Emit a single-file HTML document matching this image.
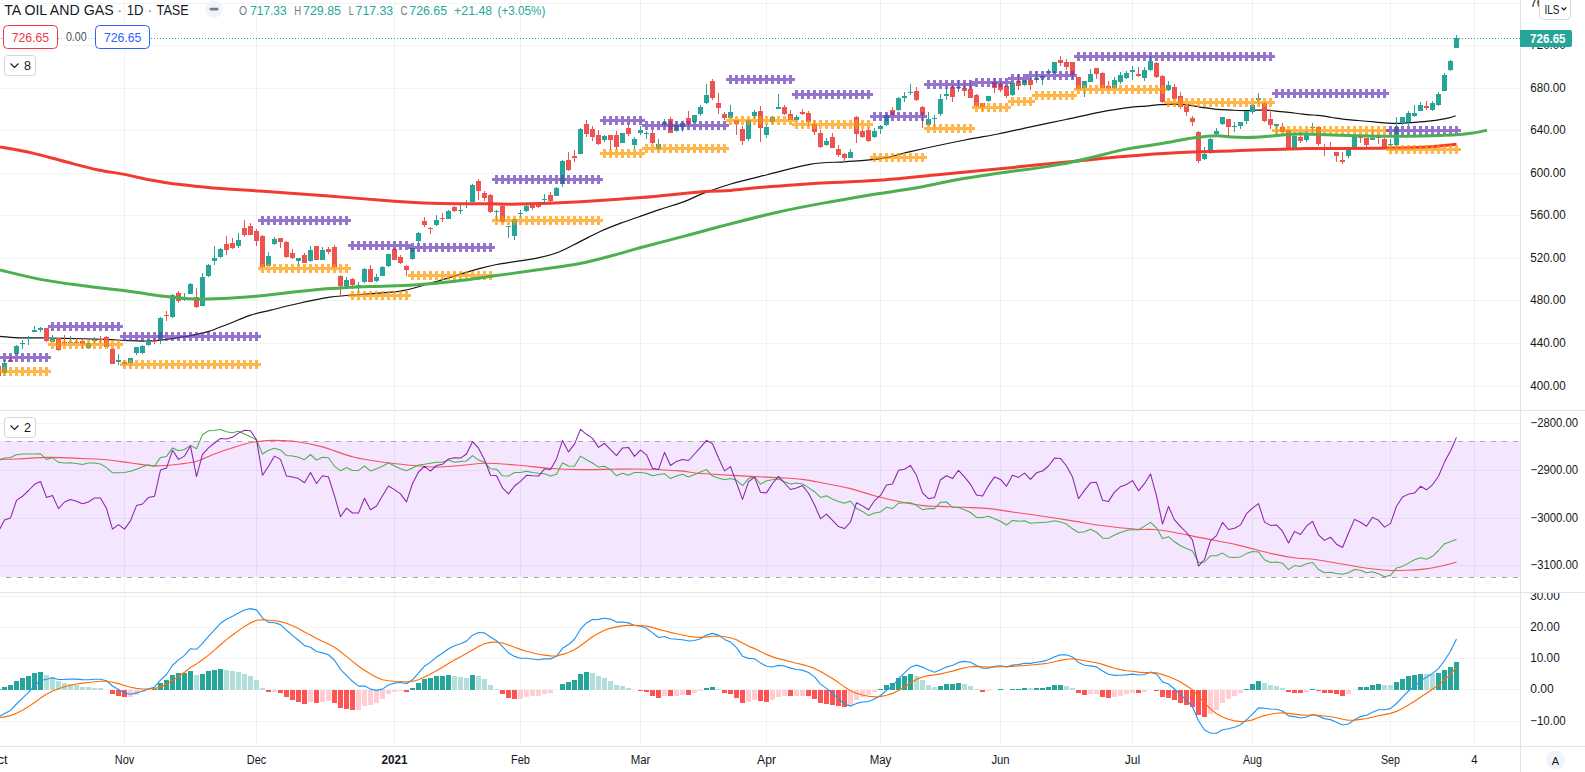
<!DOCTYPE html><html><head><meta charset="utf-8"><title>TA OIL AND GAS chart</title><style>html,body{margin:0;padding:0;background:#fff;overflow:hidden;}svg{display:block;}</style></head><body><svg width="1585" height="772" viewBox="0 0 1585 772" font-family="'Liberation Sans', Arial, sans-serif">
<rect x="0" y="0" width="1585" height="772" fill="#ffffff"/>
<defs><clipPath id="cm"><rect x="0" y="0" width="1520" height="410"/></clipPath><clipPath id="c2"><rect x="0" y="411" width="1520" height="181"/></clipPath><clipPath id="c3"><rect x="0" y="593" width="1520" height="153"/></clipPath></defs>
<rect x="0" y="441" width="1520" height="136" fill="#f3e6fe"/>
<g fill="#2a2e39" fill-opacity="0.06" shape-rendering="crispEdges"><rect x="124" y="0" width="1" height="410"/><rect x="124" y="411" width="1" height="181"/><rect x="124" y="593" width="1" height="153"/><rect x="256" y="0" width="1" height="410"/><rect x="256" y="411" width="1" height="181"/><rect x="256" y="593" width="1" height="153"/><rect x="394" y="0" width="1" height="410"/><rect x="394" y="411" width="1" height="181"/><rect x="394" y="593" width="1" height="153"/><rect x="520" y="0" width="1" height="410"/><rect x="520" y="411" width="1" height="181"/><rect x="520" y="593" width="1" height="153"/><rect x="640" y="0" width="1" height="410"/><rect x="640" y="411" width="1" height="181"/><rect x="640" y="593" width="1" height="153"/><rect x="766" y="0" width="1" height="410"/><rect x="766" y="411" width="1" height="181"/><rect x="766" y="593" width="1" height="153"/><rect x="880" y="0" width="1" height="410"/><rect x="880" y="411" width="1" height="181"/><rect x="880" y="593" width="1" height="153"/><rect x="1000" y="0" width="1" height="410"/><rect x="1000" y="411" width="1" height="181"/><rect x="1000" y="593" width="1" height="153"/><rect x="1132" y="0" width="1" height="410"/><rect x="1132" y="411" width="1" height="181"/><rect x="1132" y="593" width="1" height="153"/><rect x="1252" y="0" width="1" height="410"/><rect x="1252" y="411" width="1" height="181"/><rect x="1252" y="593" width="1" height="153"/><rect x="1390" y="0" width="1" height="410"/><rect x="1390" y="411" width="1" height="181"/><rect x="1390" y="593" width="1" height="153"/><rect x="1474" y="0" width="1" height="410"/><rect x="1474" y="411" width="1" height="181"/><rect x="1474" y="593" width="1" height="153"/><rect x="0" y="3" width="1520" height="1"/><rect x="0" y="45" width="1520" height="1"/><rect x="0" y="88" width="1520" height="1"/><rect x="0" y="130" width="1520" height="1"/><rect x="0" y="173" width="1520" height="1"/><rect x="0" y="215" width="1520" height="1"/><rect x="0" y="258" width="1520" height="1"/><rect x="0" y="300" width="1520" height="1"/><rect x="0" y="343" width="1520" height="1"/><rect x="0" y="386" width="1520" height="1"/><rect x="0" y="423" width="1520" height="1"/><rect x="0" y="470" width="1520" height="1"/><rect x="0" y="518" width="1520" height="1"/><rect x="0" y="565" width="1520" height="1"/><rect x="0" y="596" width="1520" height="1"/><rect x="0" y="627" width="1520" height="1"/><rect x="0" y="658" width="1520" height="1"/><rect x="0" y="689" width="1520" height="1"/><rect x="0" y="721" width="1520" height="1"/></g>
<g stroke="#a9a6b2" stroke-width="1" stroke-dasharray="5 6" shape-rendering="crispEdges"><line x1="6" y1="441.5" x2="1520" y2="441.5"/><line x1="6" y1="577.5" x2="1520" y2="577.5"/></g>
<g clip-path="url(#cm)">
<path d="M0.0,336.4 C3.5,336.6 13.9,337.6 20.8,337.9 C27.7,338.1 34.6,337.8 41.6,337.9 C48.6,338.0 52.1,338.1 62.5,338.3 C72.9,338.5 93.6,339.0 104.0,339.3 C114.4,339.6 118.0,340.1 125.0,340.4 C131.9,340.7 138.8,341.2 145.7,341.0 C152.6,340.8 159.6,340.1 166.6,339.3 C173.6,338.5 180.5,337.5 187.4,336.2 C194.3,334.9 201.1,333.7 208.0,331.6 C214.9,329.5 222.0,326.4 229.0,323.7 C236.0,321.0 243.1,317.6 250.0,315.4 C256.9,313.1 263.8,311.9 270.7,310.2 C277.6,308.5 281.6,307.2 291.5,305.0 C301.4,302.8 316.6,299.1 330.0,297.2 C343.4,295.3 359.5,294.8 371.6,293.7 C383.8,292.6 392.5,292.5 402.9,290.6 C413.3,288.7 421.9,285.7 434.0,282.2 C446.1,278.7 465.3,272.6 475.7,269.7 C486.1,266.8 486.2,266.5 496.6,264.5 C507.0,262.5 527.6,260.0 538.0,257.9 C548.4,255.8 552.0,254.7 559.0,252.0 C566.0,249.3 573.0,245.1 580.0,241.6 C587.0,238.1 593.8,234.3 600.7,231.2 C607.6,228.1 614.6,225.5 621.5,222.9 C628.4,220.3 635.9,217.8 642.3,215.6 C648.7,213.3 652.8,211.8 660.0,209.4 C667.2,207.0 678.4,203.7 685.4,201.1 C692.4,198.5 694.1,196.8 701.7,193.9 C709.3,191.1 719.8,187.2 730.8,184.0 C741.8,180.8 754.8,177.8 768.0,174.5 C781.2,171.2 797.3,166.4 810.0,164.3 C822.7,162.2 834.9,162.5 844.4,161.8 C853.9,161.1 859.4,161.0 867.0,160.2 C874.6,159.4 882.4,158.3 890.0,156.8 C897.6,155.3 900.0,153.9 912.5,151.1 C925.0,148.3 950.8,142.8 965.0,140.0 C979.2,137.2 987.0,136.2 998.0,134.0 C1009.0,131.8 1019.5,129.2 1030.8,126.8 C1042.1,124.4 1054.7,121.9 1066.0,119.5 C1077.3,117.1 1087.9,114.5 1098.8,112.4 C1109.7,110.4 1123.7,108.2 1131.6,107.2 C1139.5,106.2 1141.2,106.5 1146.0,106.1 C1150.8,105.7 1155.5,105.0 1160.2,104.7 C1165.0,104.4 1169.8,104.0 1174.5,104.1 C1179.2,104.2 1184.0,104.5 1188.7,105.1 C1193.5,105.7 1198.2,106.9 1203.0,107.6 C1207.8,108.3 1212.5,109.0 1217.2,109.4 C1222.0,109.8 1226.8,109.9 1231.5,110.1 C1236.2,110.3 1241.5,110.6 1245.7,110.6 C1250.0,110.6 1253.5,110.2 1257.0,110.1 C1260.5,110.0 1264.1,110.1 1267.0,110.2 C1269.9,110.3 1270.6,110.5 1274.2,110.8 C1277.8,111.1 1283.7,111.8 1288.4,112.3 C1293.2,112.8 1298.0,113.6 1302.7,114.1 C1307.5,114.6 1313.3,115.0 1316.9,115.3 C1320.5,115.6 1321.3,115.7 1324.2,116.1 C1327.1,116.5 1330.9,117.2 1334.3,117.8 C1337.7,118.3 1340.5,119.0 1344.4,119.4 C1348.3,119.9 1352.9,120.1 1357.9,120.5 C1362.9,120.9 1369.1,121.5 1374.2,121.9 C1379.3,122.4 1384.3,123.0 1388.5,123.2 C1392.7,123.5 1395.6,123.5 1399.2,123.4 C1402.8,123.3 1405.8,123.0 1409.9,122.7 C1414.1,122.4 1419.3,122.2 1424.1,121.7 C1428.8,121.2 1434.2,120.6 1438.4,119.9 C1442.6,119.2 1446.1,118.5 1449.0,117.8 C1451.9,117.1 1454.5,116.1 1455.6,115.8" fill="none" stroke="#131313" stroke-width="1.2"/>
<g fill="#26a69a" shape-rendering="crispEdges"><rect x="4.0" y="360" width="1" height="16"/><rect x="2.0" y="363" width="5" height="10"/><rect x="16.0" y="345" width="1" height="9"/><rect x="14.0" y="346" width="5" height="8"/><rect x="22.0" y="340" width="1" height="9"/><rect x="20.0" y="343" width="5" height="1"/><rect x="28.0" y="336" width="1" height="9"/><rect x="26.0" y="338" width="5" height="1"/><rect x="34.0" y="326" width="1" height="6"/><rect x="32.0" y="330" width="5" height="2"/><rect x="40.0" y="327" width="1" height="5"/><rect x="38.0" y="328" width="5" height="2"/><rect x="52.0" y="335" width="1" height="7"/><rect x="50.0" y="338" width="5" height="4"/><rect x="70.0" y="336" width="1" height="7"/><rect x="68.0" y="342" width="5" height="1"/><rect x="88.0" y="342" width="1" height="7"/><rect x="86.0" y="343" width="5" height="5"/><rect x="94.0" y="337" width="1" height="7"/><rect x="92.0" y="340" width="5" height="1"/><rect x="118.0" y="354" width="1" height="11"/><rect x="116.0" y="360" width="5" height="2"/><rect x="130.0" y="358" width="1" height="8"/><rect x="128.0" y="358" width="5" height="5"/><rect x="136.0" y="347" width="1" height="8"/><rect x="134.0" y="347" width="5" height="6"/><rect x="142.0" y="345" width="1" height="9"/><rect x="140.0" y="346" width="5" height="7"/><rect x="148.0" y="340" width="1" height="6"/><rect x="146.0" y="341" width="5" height="4"/><rect x="160.0" y="317" width="1" height="27"/><rect x="158.0" y="318" width="5" height="22"/><rect x="172.0" y="294" width="1" height="24"/><rect x="170.0" y="295" width="5" height="22"/><rect x="184.0" y="293" width="1" height="8"/><rect x="182.0" y="299" width="5" height="1"/><rect x="190.0" y="283" width="1" height="11"/><rect x="188.0" y="284" width="5" height="10"/><rect x="202.0" y="273" width="1" height="33"/><rect x="200.0" y="277" width="5" height="29"/><rect x="208.0" y="264" width="1" height="13"/><rect x="206.0" y="265" width="5" height="11"/><rect x="214.0" y="246" width="1" height="19"/><rect x="212.0" y="258" width="5" height="3"/><rect x="220.0" y="248" width="1" height="10"/><rect x="218.0" y="249" width="5" height="8"/><rect x="238.0" y="233" width="1" height="15"/><rect x="236.0" y="240" width="5" height="6"/><rect x="268.0" y="252" width="1" height="14"/><rect x="266.0" y="256" width="5" height="10"/><rect x="274.0" y="237" width="1" height="8"/><rect x="272.0" y="239" width="5" height="5"/><rect x="298.0" y="258" width="1" height="8"/><rect x="296.0" y="258" width="5" height="3"/><rect x="310.0" y="246" width="1" height="16"/><rect x="308.0" y="250" width="5" height="11"/><rect x="322.0" y="247" width="1" height="13"/><rect x="320.0" y="250" width="5" height="10"/><rect x="346.0" y="277" width="1" height="11"/><rect x="344.0" y="280" width="5" height="6"/><rect x="358.0" y="282" width="1" height="10"/><rect x="356.0" y="285" width="5" height="1"/><rect x="364.0" y="268" width="1" height="15"/><rect x="362.0" y="269" width="5" height="13"/><rect x="376.0" y="274" width="1" height="8"/><rect x="374.0" y="277" width="5" height="4"/><rect x="382.0" y="266" width="1" height="10"/><rect x="380.0" y="267" width="5" height="9"/><rect x="388.0" y="254" width="1" height="13"/><rect x="386.0" y="254" width="5" height="12"/><rect x="412.0" y="248" width="1" height="12"/><rect x="410.0" y="248" width="5" height="11"/><rect x="418.0" y="232" width="1" height="11"/><rect x="416.0" y="233" width="5" height="8"/><rect x="436.0" y="215" width="1" height="11"/><rect x="434.0" y="220" width="5" height="5"/><rect x="448.0" y="210" width="1" height="9"/><rect x="446.0" y="211" width="5" height="8"/><rect x="460.0" y="205" width="1" height="9"/><rect x="458.0" y="210" width="5" height="1"/><rect x="466.0" y="200" width="1" height="8"/><rect x="464.0" y="204" width="5" height="1"/><rect x="472.0" y="184" width="1" height="18"/><rect x="470.0" y="185" width="5" height="17"/><rect x="496.0" y="210" width="1" height="11"/><rect x="494.0" y="211" width="5" height="1"/><rect x="508.0" y="226" width="1" height="12"/><rect x="506.0" y="226" width="5" height="1"/><rect x="514.0" y="219" width="1" height="21"/><rect x="512.0" y="219" width="5" height="17"/><rect x="520.0" y="210" width="1" height="8"/><rect x="518.0" y="213" width="5" height="1"/><rect x="526.0" y="205" width="1" height="7"/><rect x="524.0" y="206" width="5" height="5"/><rect x="544.0" y="194" width="1" height="9"/><rect x="542.0" y="199" width="5" height="1"/><rect x="556.0" y="187" width="1" height="9"/><rect x="554.0" y="188" width="5" height="8"/><rect x="562.0" y="160" width="1" height="27"/><rect x="560.0" y="161" width="5" height="23"/><rect x="580.0" y="128" width="1" height="26"/><rect x="578.0" y="129" width="5" height="25"/><rect x="604.0" y="135" width="1" height="7"/><rect x="602.0" y="136" width="5" height="4"/><rect x="622.0" y="133" width="1" height="10"/><rect x="620.0" y="133" width="5" height="10"/><rect x="634.0" y="137" width="1" height="12"/><rect x="632.0" y="139" width="5" height="6"/><rect x="640.0" y="126" width="1" height="9"/><rect x="638.0" y="130" width="5" height="3"/><rect x="646.0" y="131" width="1" height="8"/><rect x="644.0" y="133" width="5" height="1"/><rect x="658.0" y="139" width="1" height="12"/><rect x="656.0" y="144" width="5" height="5"/><rect x="664.0" y="119" width="1" height="8"/><rect x="662.0" y="122" width="5" height="3"/><rect x="676.0" y="122" width="1" height="10"/><rect x="674.0" y="125" width="5" height="6"/><rect x="682.0" y="121" width="1" height="11"/><rect x="680.0" y="123" width="5" height="4"/><rect x="694.0" y="115" width="1" height="7"/><rect x="692.0" y="115" width="5" height="7"/><rect x="700.0" y="105" width="1" height="11"/><rect x="698.0" y="107" width="5" height="7"/><rect x="706.0" y="84" width="1" height="20"/><rect x="704.0" y="95" width="5" height="8"/><rect x="730.0" y="105" width="1" height="14"/><rect x="728.0" y="112" width="5" height="6"/><rect x="748.0" y="119" width="1" height="22"/><rect x="746.0" y="120" width="5" height="19"/><rect x="754.0" y="110" width="1" height="9"/><rect x="752.0" y="112" width="5" height="4"/><rect x="766.0" y="125" width="1" height="13"/><rect x="764.0" y="127" width="5" height="8"/><rect x="772.0" y="116" width="1" height="8"/><rect x="770.0" y="117" width="5" height="5"/><rect x="778.0" y="94" width="1" height="15"/><rect x="776.0" y="107" width="5" height="2"/><rect x="796.0" y="115" width="1" height="6"/><rect x="794.0" y="117" width="5" height="3"/><rect x="826.0" y="138" width="1" height="8"/><rect x="824.0" y="141" width="5" height="4"/><rect x="850.0" y="149" width="1" height="9"/><rect x="848.0" y="152" width="5" height="6"/><rect x="874.0" y="128" width="1" height="10"/><rect x="872.0" y="131" width="5" height="6"/><rect x="880.0" y="125" width="1" height="9"/><rect x="878.0" y="126" width="5" height="3"/><rect x="886.0" y="114" width="1" height="12"/><rect x="884.0" y="115" width="5" height="10"/><rect x="898.0" y="97" width="1" height="14"/><rect x="896.0" y="98" width="5" height="12"/><rect x="904.0" y="92" width="1" height="10"/><rect x="902.0" y="96" width="5" height="2"/><rect x="910.0" y="84" width="1" height="11"/><rect x="908.0" y="92" width="5" height="1"/><rect x="928.0" y="112" width="1" height="14"/><rect x="926.0" y="119" width="5" height="6"/><rect x="934.0" y="115" width="1" height="14"/><rect x="932.0" y="118" width="5" height="1"/><rect x="940.0" y="94" width="1" height="22"/><rect x="938.0" y="99" width="5" height="15"/><rect x="946.0" y="88" width="1" height="12"/><rect x="944.0" y="94" width="5" height="2"/><rect x="958.0" y="80" width="1" height="12"/><rect x="956.0" y="87" width="5" height="1"/><rect x="988.0" y="96" width="1" height="6"/><rect x="986.0" y="96" width="5" height="5"/><rect x="1012.0" y="82" width="1" height="14"/><rect x="1010.0" y="83" width="5" height="12"/><rect x="1024.0" y="80" width="1" height="6"/><rect x="1022.0" y="80" width="5" height="5"/><rect x="1036.0" y="71" width="1" height="12"/><rect x="1034.0" y="78" width="5" height="2"/><rect x="1042.0" y="75" width="1" height="10"/><rect x="1040.0" y="76" width="5" height="2"/><rect x="1048.0" y="69" width="1" height="5"/><rect x="1046.0" y="71" width="5" height="2"/><rect x="1054.0" y="62" width="1" height="12"/><rect x="1052.0" y="62" width="5" height="11"/><rect x="1084.0" y="81" width="1" height="16"/><rect x="1082.0" y="81" width="5" height="7"/><rect x="1090.0" y="69" width="1" height="13"/><rect x="1088.0" y="74" width="5" height="8"/><rect x="1114.0" y="77" width="1" height="12"/><rect x="1112.0" y="80" width="5" height="8"/><rect x="1120.0" y="72" width="1" height="12"/><rect x="1118.0" y="75" width="5" height="7"/><rect x="1126.0" y="71" width="1" height="8"/><rect x="1124.0" y="73" width="5" height="5"/><rect x="1132.0" y="66" width="1" height="14"/><rect x="1130.0" y="70" width="5" height="2"/><rect x="1144.0" y="67" width="1" height="14"/><rect x="1142.0" y="70" width="5" height="8"/><rect x="1150.0" y="56" width="1" height="15"/><rect x="1148.0" y="61" width="5" height="9"/><rect x="1168.0" y="81" width="1" height="10"/><rect x="1166.0" y="85" width="5" height="5"/><rect x="1204.0" y="147" width="1" height="13"/><rect x="1202.0" y="154" width="5" height="5"/><rect x="1210.0" y="138" width="1" height="16"/><rect x="1208.0" y="139" width="5" height="14"/><rect x="1216.0" y="128" width="1" height="7"/><rect x="1214.0" y="131" width="5" height="3"/><rect x="1222.0" y="117" width="1" height="8"/><rect x="1220.0" y="117" width="5" height="7"/><rect x="1234.0" y="122" width="1" height="10"/><rect x="1232.0" y="126" width="5" height="1"/><rect x="1240.0" y="122" width="1" height="7"/><rect x="1238.0" y="122" width="5" height="4"/><rect x="1246.0" y="111" width="1" height="13"/><rect x="1244.0" y="111" width="5" height="10"/><rect x="1252.0" y="104" width="1" height="10"/><rect x="1250.0" y="105" width="5" height="7"/><rect x="1258.0" y="93" width="1" height="11"/><rect x="1256.0" y="98" width="5" height="2"/><rect x="1276.0" y="124" width="1" height="10"/><rect x="1274.0" y="124" width="5" height="2"/><rect x="1294.0" y="135" width="1" height="13"/><rect x="1292.0" y="136" width="5" height="12"/><rect x="1306.0" y="130" width="1" height="12"/><rect x="1304.0" y="133" width="5" height="7"/><rect x="1312.0" y="123" width="1" height="9"/><rect x="1310.0" y="127" width="5" height="1"/><rect x="1348.0" y="149" width="1" height="9"/><rect x="1346.0" y="150" width="5" height="6"/><rect x="1354.0" y="136" width="1" height="12"/><rect x="1352.0" y="137" width="5" height="10"/><rect x="1372.0" y="130" width="1" height="10"/><rect x="1370.0" y="138" width="5" height="2"/><rect x="1390.0" y="139" width="1" height="7"/><rect x="1388.0" y="144" width="5" height="1"/><rect x="1396.0" y="117" width="1" height="29"/><rect x="1394.0" y="127" width="5" height="18"/><rect x="1402.0" y="117" width="1" height="8"/><rect x="1400.0" y="117" width="5" height="6"/><rect x="1408.0" y="111" width="1" height="15"/><rect x="1406.0" y="113" width="5" height="9"/><rect x="1414.0" y="105" width="1" height="12"/><rect x="1412.0" y="113" width="5" height="3"/><rect x="1420.0" y="102" width="1" height="9"/><rect x="1418.0" y="105" width="5" height="6"/><rect x="1432.0" y="101" width="1" height="10"/><rect x="1430.0" y="103" width="5" height="7"/><rect x="1438.0" y="92" width="1" height="14"/><rect x="1436.0" y="94" width="5" height="11"/><rect x="1444.0" y="73" width="1" height="18"/><rect x="1442.0" y="75" width="5" height="16"/><rect x="1450.0" y="60" width="1" height="11"/><rect x="1448.0" y="61" width="5" height="9"/><rect x="1456.0" y="35" width="1" height="13"/><rect x="1454.0" y="38" width="5" height="10"/></g>
<g fill="#ef5350" shape-rendering="crispEdges"><rect x="-2.0" y="364" width="1" height="14"/><rect x="-4.0" y="366" width="5" height="10"/><rect x="10.0" y="357" width="1" height="5"/><rect x="8.0" y="360" width="5" height="2"/><rect x="46.0" y="328" width="1" height="14"/><rect x="44.0" y="328" width="5" height="13"/><rect x="58.0" y="338" width="1" height="13"/><rect x="56.0" y="338" width="5" height="12"/><rect x="64.0" y="335" width="1" height="10"/><rect x="62.0" y="342" width="5" height="1"/><rect x="76.0" y="338" width="1" height="6"/><rect x="74.0" y="342" width="5" height="1"/><rect x="82.0" y="339" width="1" height="9"/><rect x="80.0" y="341" width="5" height="3"/><rect x="100.0" y="336" width="1" height="8"/><rect x="98.0" y="339" width="5" height="1"/><rect x="106.0" y="336" width="1" height="11"/><rect x="104.0" y="337" width="5" height="10"/><rect x="112.0" y="348" width="1" height="16"/><rect x="110.0" y="349" width="5" height="15"/><rect x="124.0" y="360" width="1" height="6"/><rect x="122.0" y="362" width="5" height="2"/><rect x="154.0" y="338" width="1" height="6"/><rect x="152.0" y="340" width="5" height="2"/><rect x="166.0" y="311" width="1" height="10"/><rect x="164.0" y="315" width="5" height="1"/><rect x="178.0" y="291" width="1" height="12"/><rect x="176.0" y="293" width="5" height="8"/><rect x="196.0" y="288" width="1" height="20"/><rect x="194.0" y="297" width="5" height="10"/><rect x="226.0" y="236" width="1" height="19"/><rect x="224.0" y="244" width="5" height="6"/><rect x="232.0" y="238" width="1" height="11"/><rect x="230.0" y="243" width="5" height="5"/><rect x="244.0" y="220" width="1" height="17"/><rect x="242.0" y="228" width="5" height="7"/><rect x="250.0" y="223" width="1" height="12"/><rect x="248.0" y="226" width="5" height="9"/><rect x="256.0" y="229" width="1" height="17"/><rect x="254.0" y="231" width="5" height="10"/><rect x="262.0" y="235" width="1" height="33"/><rect x="260.0" y="236" width="5" height="31"/><rect x="280.0" y="238" width="1" height="10"/><rect x="278.0" y="238" width="5" height="4"/><rect x="286.0" y="241" width="1" height="17"/><rect x="284.0" y="242" width="5" height="15"/><rect x="292.0" y="249" width="1" height="10"/><rect x="290.0" y="253" width="5" height="5"/><rect x="304.0" y="253" width="1" height="10"/><rect x="302.0" y="255" width="5" height="8"/><rect x="316.0" y="246" width="1" height="14"/><rect x="314.0" y="246" width="5" height="14"/><rect x="328.0" y="247" width="1" height="7"/><rect x="326.0" y="249" width="5" height="3"/><rect x="334.0" y="245" width="1" height="23"/><rect x="332.0" y="247" width="5" height="20"/><rect x="340.0" y="275" width="1" height="21"/><rect x="338.0" y="276" width="5" height="10"/><rect x="352.0" y="278" width="1" height="11"/><rect x="350.0" y="279" width="5" height="6"/><rect x="370.0" y="265" width="1" height="17"/><rect x="368.0" y="269" width="5" height="13"/><rect x="394.0" y="248" width="1" height="12"/><rect x="392.0" y="249" width="5" height="11"/><rect x="400.0" y="255" width="1" height="9"/><rect x="398.0" y="257" width="5" height="6"/><rect x="406.0" y="265" width="1" height="11"/><rect x="404.0" y="266" width="5" height="4"/><rect x="424.0" y="217" width="1" height="10"/><rect x="422.0" y="221" width="5" height="4"/><rect x="430.0" y="227" width="1" height="7"/><rect x="428.0" y="228" width="5" height="1"/><rect x="442.0" y="213" width="1" height="9"/><rect x="440.0" y="218" width="5" height="1"/><rect x="454.0" y="206" width="1" height="6"/><rect x="452.0" y="207" width="5" height="4"/><rect x="478.0" y="179" width="1" height="21"/><rect x="476.0" y="181" width="5" height="10"/><rect x="484.0" y="191" width="1" height="10"/><rect x="482.0" y="193" width="5" height="5"/><rect x="490.0" y="194" width="1" height="19"/><rect x="488.0" y="195" width="5" height="17"/><rect x="502.0" y="205" width="1" height="18"/><rect x="500.0" y="206" width="5" height="16"/><rect x="532.0" y="203" width="1" height="7"/><rect x="530.0" y="204" width="5" height="4"/><rect x="538.0" y="202" width="1" height="6"/><rect x="536.0" y="205" width="5" height="2"/><rect x="550.0" y="192" width="1" height="11"/><rect x="548.0" y="195" width="5" height="6"/><rect x="568.0" y="152" width="1" height="19"/><rect x="566.0" y="160" width="5" height="10"/><rect x="574.0" y="150" width="1" height="12"/><rect x="572.0" y="156" width="5" height="2"/><rect x="586.0" y="120" width="1" height="17"/><rect x="584.0" y="124" width="5" height="10"/><rect x="592.0" y="126" width="1" height="15"/><rect x="590.0" y="129" width="5" height="8"/><rect x="598.0" y="130" width="1" height="15"/><rect x="596.0" y="135" width="5" height="9"/><rect x="610.0" y="135" width="1" height="15"/><rect x="608.0" y="135" width="5" height="5"/><rect x="616.0" y="131" width="1" height="19"/><rect x="614.0" y="135" width="5" height="12"/><rect x="628.0" y="125" width="1" height="11"/><rect x="626.0" y="128" width="5" height="6"/><rect x="652.0" y="130" width="1" height="14"/><rect x="650.0" y="133" width="5" height="10"/><rect x="670.0" y="117" width="1" height="16"/><rect x="668.0" y="119" width="5" height="14"/><rect x="688.0" y="111" width="1" height="15"/><rect x="686.0" y="118" width="5" height="6"/><rect x="712.0" y="79" width="1" height="21"/><rect x="710.0" y="81" width="5" height="17"/><rect x="718.0" y="93" width="1" height="21"/><rect x="716.0" y="103" width="5" height="5"/><rect x="724.0" y="112" width="1" height="8"/><rect x="722.0" y="114" width="5" height="4"/><rect x="736.0" y="120" width="1" height="15"/><rect x="734.0" y="120" width="5" height="4"/><rect x="742.0" y="126" width="1" height="19"/><rect x="740.0" y="129" width="5" height="12"/><rect x="760.0" y="106" width="1" height="36"/><rect x="758.0" y="111" width="5" height="17"/><rect x="784.0" y="105" width="1" height="10"/><rect x="782.0" y="107" width="5" height="7"/><rect x="790.0" y="110" width="1" height="10"/><rect x="788.0" y="114" width="5" height="6"/><rect x="802.0" y="109" width="1" height="6"/><rect x="800.0" y="112" width="5" height="2"/><rect x="808.0" y="111" width="1" height="15"/><rect x="806.0" y="113" width="5" height="9"/><rect x="814.0" y="120" width="1" height="15"/><rect x="812.0" y="124" width="5" height="8"/><rect x="820.0" y="130" width="1" height="18"/><rect x="818.0" y="133" width="5" height="14"/><rect x="832.0" y="133" width="1" height="15"/><rect x="830.0" y="137" width="5" height="11"/><rect x="838.0" y="145" width="1" height="12"/><rect x="836.0" y="149" width="5" height="6"/><rect x="844.0" y="153" width="1" height="9"/><rect x="842.0" y="154" width="5" height="4"/><rect x="856.0" y="116" width="1" height="27"/><rect x="854.0" y="117" width="5" height="17"/><rect x="862.0" y="129" width="1" height="9"/><rect x="860.0" y="131" width="5" height="6"/><rect x="868.0" y="127" width="1" height="15"/><rect x="866.0" y="130" width="5" height="11"/><rect x="892.0" y="107" width="1" height="9"/><rect x="890.0" y="110" width="5" height="5"/><rect x="916.0" y="87" width="1" height="14"/><rect x="914.0" y="91" width="5" height="9"/><rect x="922.0" y="106" width="1" height="22"/><rect x="920.0" y="107" width="5" height="8"/><rect x="952.0" y="85" width="1" height="17"/><rect x="950.0" y="87" width="5" height="10"/><rect x="964.0" y="83" width="1" height="13"/><rect x="962.0" y="88" width="5" height="3"/><rect x="970.0" y="82" width="1" height="16"/><rect x="968.0" y="89" width="5" height="9"/><rect x="976.0" y="94" width="1" height="13"/><rect x="974.0" y="95" width="5" height="11"/><rect x="982.0" y="103" width="1" height="8"/><rect x="980.0" y="103" width="5" height="4"/><rect x="994.0" y="78" width="1" height="15"/><rect x="992.0" y="82" width="5" height="6"/><rect x="1000.0" y="82" width="1" height="10"/><rect x="998.0" y="84" width="5" height="6"/><rect x="1006.0" y="86" width="1" height="12"/><rect x="1004.0" y="86" width="5" height="10"/><rect x="1018.0" y="74" width="1" height="16"/><rect x="1016.0" y="81" width="5" height="5"/><rect x="1030.0" y="78" width="1" height="12"/><rect x="1028.0" y="80" width="5" height="5"/><rect x="1060.0" y="56" width="1" height="10"/><rect x="1058.0" y="60" width="5" height="3"/><rect x="1066.0" y="59" width="1" height="11"/><rect x="1064.0" y="62" width="5" height="5"/><rect x="1072.0" y="62" width="1" height="17"/><rect x="1070.0" y="62" width="5" height="13"/><rect x="1078.0" y="77" width="1" height="13"/><rect x="1076.0" y="77" width="5" height="12"/><rect x="1096.0" y="68" width="1" height="11"/><rect x="1094.0" y="68" width="5" height="6"/><rect x="1102.0" y="72" width="1" height="16"/><rect x="1100.0" y="73" width="5" height="15"/><rect x="1108.0" y="81" width="1" height="9"/><rect x="1106.0" y="86" width="5" height="2"/><rect x="1138.0" y="67" width="1" height="10"/><rect x="1136.0" y="74" width="5" height="2"/><rect x="1156.0" y="62" width="1" height="16"/><rect x="1154.0" y="63" width="5" height="14"/><rect x="1162.0" y="75" width="1" height="28"/><rect x="1160.0" y="76" width="5" height="26"/><rect x="1174.0" y="84" width="1" height="16"/><rect x="1172.0" y="87" width="5" height="12"/><rect x="1180.0" y="92" width="1" height="17"/><rect x="1178.0" y="96" width="5" height="11"/><rect x="1186.0" y="104" width="1" height="12"/><rect x="1184.0" y="106" width="5" height="6"/><rect x="1192.0" y="116" width="1" height="10"/><rect x="1190.0" y="118" width="5" height="4"/><rect x="1198.0" y="131" width="1" height="32"/><rect x="1196.0" y="132" width="5" height="29"/><rect x="1228.0" y="119" width="1" height="17"/><rect x="1226.0" y="119" width="5" height="8"/><rect x="1264.0" y="102" width="1" height="20"/><rect x="1262.0" y="103" width="5" height="18"/><rect x="1270.0" y="109" width="1" height="20"/><rect x="1268.0" y="119" width="5" height="6"/><rect x="1282.0" y="123" width="1" height="9"/><rect x="1280.0" y="127" width="5" height="5"/><rect x="1288.0" y="130" width="1" height="18"/><rect x="1286.0" y="130" width="5" height="18"/><rect x="1300.0" y="132" width="1" height="11"/><rect x="1298.0" y="137" width="5" height="4"/><rect x="1318.0" y="127" width="1" height="19"/><rect x="1316.0" y="127" width="5" height="17"/><rect x="1324.0" y="144" width="1" height="12"/><rect x="1322.0" y="147" width="5" height="3"/><rect x="1330.0" y="142" width="1" height="7"/><rect x="1328.0" y="147" width="5" height="1"/><rect x="1336.0" y="152" width="1" height="10"/><rect x="1334.0" y="152" width="5" height="4"/><rect x="1342.0" y="152" width="1" height="12"/><rect x="1340.0" y="160" width="5" height="2"/><rect x="1360.0" y="136" width="1" height="7"/><rect x="1358.0" y="137" width="5" height="1"/><rect x="1366.0" y="138" width="1" height="9"/><rect x="1364.0" y="138" width="5" height="7"/><rect x="1378.0" y="134" width="1" height="10"/><rect x="1376.0" y="137" width="5" height="1"/><rect x="1384.0" y="138" width="1" height="10"/><rect x="1382.0" y="139" width="5" height="8"/><rect x="1426.0" y="101" width="1" height="9"/><rect x="1424.0" y="106" width="5" height="2"/></g>
<path d="M0.0,146.9 C5.5,147.9 21.9,150.6 32.8,153.1 C43.7,155.6 54.7,159.0 65.6,161.8 C76.5,164.6 88.6,167.9 98.4,170.0 C108.2,172.1 116.5,172.8 124.7,174.4 C132.9,176.0 138.3,177.7 147.6,179.4 C156.9,181.1 169.5,183.2 180.4,184.6 C191.3,186.0 199.7,186.8 213.0,187.9 C226.3,189.0 241.2,189.8 260.0,191.1 C278.8,192.4 303.2,194.1 325.6,195.8 C348.0,197.5 378.1,200.1 394.5,201.3 C410.9,202.5 413.6,202.6 424.0,203.0 C434.4,203.4 445.9,203.7 456.9,203.8 C467.8,203.9 479.2,203.8 489.7,203.8 C500.2,203.9 504.9,204.4 520.0,204.1 C535.1,203.8 560.4,202.9 580.6,201.8 C600.8,200.7 620.8,199.3 641.0,197.6 C661.2,195.9 686.7,193.0 701.7,191.8 C716.7,190.6 720.7,191.2 730.8,190.4 C740.9,189.7 747.1,188.5 762.3,187.3 C777.4,186.1 801.5,184.2 821.7,183.0 C841.9,181.8 864.5,181.3 883.4,180.0 C902.3,178.7 915.6,176.9 935.0,175.0 C954.4,173.1 978.9,170.8 1000.0,168.7 C1021.1,166.6 1041.2,164.6 1061.8,162.5 C1082.4,160.4 1103.9,158.1 1123.6,156.4 C1143.3,154.7 1163.9,153.2 1180.0,152.4 C1196.1,151.6 1210.0,151.6 1220.0,151.3 C1230.0,151.0 1231.0,150.9 1240.0,150.6 C1249.0,150.3 1262.5,149.7 1273.7,149.4 C1284.9,149.1 1296.2,148.8 1307.4,148.6 C1318.6,148.4 1328.9,148.6 1341.0,148.5 C1353.1,148.4 1366.5,148.4 1380.0,148.2 C1393.5,148.0 1409.2,148.0 1422.0,147.3 C1434.8,146.7 1450.8,144.8 1456.5,144.3" fill="none" stroke="#f23a2f" stroke-width="3" stroke-linejoin="round"/>
<g fill="#ff9800" opacity="0.7" shape-rendering="crispEdges"><rect x="-6.0" y="370.0" width="57.0" height="3"/>
<rect x="-3.0" y="367.0" width="3" height="9"/>
<rect x="3.0" y="367.0" width="3" height="9"/>
<rect x="9.0" y="367.0" width="3" height="9"/>
<rect x="15.0" y="367.0" width="3" height="9"/>
<rect x="21.0" y="367.0" width="3" height="9"/>
<rect x="27.0" y="367.0" width="3" height="9"/>
<rect x="33.0" y="367.0" width="3" height="9"/>
<rect x="39.0" y="367.0" width="3" height="9"/>
<rect x="45.0" y="367.0" width="3" height="9"/>
<rect x="48.0" y="343.0" width="75.0" height="3"/>
<rect x="51.0" y="340.0" width="3" height="9"/>
<rect x="57.0" y="340.0" width="3" height="9"/>
<rect x="63.0" y="340.0" width="3" height="9"/>
<rect x="69.0" y="340.0" width="3" height="9"/>
<rect x="75.0" y="340.0" width="3" height="9"/>
<rect x="81.0" y="340.0" width="3" height="9"/>
<rect x="87.0" y="340.0" width="3" height="9"/>
<rect x="93.0" y="340.0" width="3" height="9"/>
<rect x="99.0" y="340.0" width="3" height="9"/>
<rect x="105.0" y="340.0" width="3" height="9"/>
<rect x="111.0" y="340.0" width="3" height="9"/>
<rect x="117.0" y="340.0" width="3" height="9"/>
<rect x="120.0" y="363.0" width="141.0" height="3"/>
<rect x="123.0" y="360.0" width="3" height="9"/>
<rect x="129.0" y="360.0" width="3" height="9"/>
<rect x="135.0" y="360.0" width="3" height="9"/>
<rect x="141.0" y="360.0" width="3" height="9"/>
<rect x="147.0" y="360.0" width="3" height="9"/>
<rect x="153.0" y="360.0" width="3" height="9"/>
<rect x="159.0" y="360.0" width="3" height="9"/>
<rect x="165.0" y="360.0" width="3" height="9"/>
<rect x="171.0" y="360.0" width="3" height="9"/>
<rect x="177.0" y="360.0" width="3" height="9"/>
<rect x="183.0" y="360.0" width="3" height="9"/>
<rect x="189.0" y="360.0" width="3" height="9"/>
<rect x="195.0" y="360.0" width="3" height="9"/>
<rect x="201.0" y="360.0" width="3" height="9"/>
<rect x="207.0" y="360.0" width="3" height="9"/>
<rect x="213.0" y="360.0" width="3" height="9"/>
<rect x="219.0" y="360.0" width="3" height="9"/>
<rect x="225.0" y="360.0" width="3" height="9"/>
<rect x="231.0" y="360.0" width="3" height="9"/>
<rect x="237.0" y="360.0" width="3" height="9"/>
<rect x="243.0" y="360.0" width="3" height="9"/>
<rect x="249.0" y="360.0" width="3" height="9"/>
<rect x="255.0" y="360.0" width="3" height="9"/>
<rect x="258.0" y="267.0" width="93.0" height="3"/>
<rect x="261.0" y="264.0" width="3" height="9"/>
<rect x="267.0" y="264.0" width="3" height="9"/>
<rect x="273.0" y="264.0" width="3" height="9"/>
<rect x="279.0" y="264.0" width="3" height="9"/>
<rect x="285.0" y="264.0" width="3" height="9"/>
<rect x="291.0" y="264.0" width="3" height="9"/>
<rect x="297.0" y="264.0" width="3" height="9"/>
<rect x="303.0" y="264.0" width="3" height="9"/>
<rect x="309.0" y="264.0" width="3" height="9"/>
<rect x="315.0" y="264.0" width="3" height="9"/>
<rect x="321.0" y="264.0" width="3" height="9"/>
<rect x="327.0" y="264.0" width="3" height="9"/>
<rect x="333.0" y="264.0" width="3" height="9"/>
<rect x="339.0" y="264.0" width="3" height="9"/>
<rect x="345.0" y="264.0" width="3" height="9"/>
<rect x="348.0" y="294.0" width="63.0" height="3"/>
<rect x="351.0" y="291.0" width="3" height="9"/>
<rect x="357.0" y="291.0" width="3" height="9"/>
<rect x="363.0" y="291.0" width="3" height="9"/>
<rect x="369.0" y="291.0" width="3" height="9"/>
<rect x="375.0" y="291.0" width="3" height="9"/>
<rect x="381.0" y="291.0" width="3" height="9"/>
<rect x="387.0" y="291.0" width="3" height="9"/>
<rect x="393.0" y="291.0" width="3" height="9"/>
<rect x="399.0" y="291.0" width="3" height="9"/>
<rect x="405.0" y="291.0" width="3" height="9"/>
<rect x="408.0" y="274.0" width="87.0" height="3"/>
<rect x="411.0" y="271.0" width="3" height="9"/>
<rect x="417.0" y="271.0" width="3" height="9"/>
<rect x="423.0" y="271.0" width="3" height="9"/>
<rect x="429.0" y="271.0" width="3" height="9"/>
<rect x="435.0" y="271.0" width="3" height="9"/>
<rect x="441.0" y="271.0" width="3" height="9"/>
<rect x="447.0" y="271.0" width="3" height="9"/>
<rect x="453.0" y="271.0" width="3" height="9"/>
<rect x="459.0" y="271.0" width="3" height="9"/>
<rect x="465.0" y="271.0" width="3" height="9"/>
<rect x="471.0" y="271.0" width="3" height="9"/>
<rect x="477.0" y="271.0" width="3" height="9"/>
<rect x="483.0" y="271.0" width="3" height="9"/>
<rect x="489.0" y="271.0" width="3" height="9"/>
<rect x="492.0" y="219.0" width="111.0" height="3"/>
<rect x="495.0" y="216.0" width="3" height="9"/>
<rect x="501.0" y="216.0" width="3" height="9"/>
<rect x="507.0" y="216.0" width="3" height="9"/>
<rect x="513.0" y="216.0" width="3" height="9"/>
<rect x="519.0" y="216.0" width="3" height="9"/>
<rect x="525.0" y="216.0" width="3" height="9"/>
<rect x="531.0" y="216.0" width="3" height="9"/>
<rect x="537.0" y="216.0" width="3" height="9"/>
<rect x="543.0" y="216.0" width="3" height="9"/>
<rect x="549.0" y="216.0" width="3" height="9"/>
<rect x="555.0" y="216.0" width="3" height="9"/>
<rect x="561.0" y="216.0" width="3" height="9"/>
<rect x="567.0" y="216.0" width="3" height="9"/>
<rect x="573.0" y="216.0" width="3" height="9"/>
<rect x="579.0" y="216.0" width="3" height="9"/>
<rect x="585.0" y="216.0" width="3" height="9"/>
<rect x="591.0" y="216.0" width="3" height="9"/>
<rect x="597.0" y="216.0" width="3" height="9"/>
<rect x="600.0" y="152.0" width="45.0" height="3"/>
<rect x="603.0" y="149.0" width="3" height="9"/>
<rect x="609.0" y="149.0" width="3" height="9"/>
<rect x="615.0" y="149.0" width="3" height="9"/>
<rect x="621.0" y="149.0" width="3" height="9"/>
<rect x="627.0" y="149.0" width="3" height="9"/>
<rect x="633.0" y="149.0" width="3" height="9"/>
<rect x="639.0" y="149.0" width="3" height="9"/>
<rect x="642.0" y="147.0" width="87.0" height="3"/>
<rect x="645.0" y="144.0" width="3" height="9"/>
<rect x="651.0" y="144.0" width="3" height="9"/>
<rect x="657.0" y="144.0" width="3" height="9"/>
<rect x="663.0" y="144.0" width="3" height="9"/>
<rect x="669.0" y="144.0" width="3" height="9"/>
<rect x="675.0" y="144.0" width="3" height="9"/>
<rect x="681.0" y="144.0" width="3" height="9"/>
<rect x="687.0" y="144.0" width="3" height="9"/>
<rect x="693.0" y="144.0" width="3" height="9"/>
<rect x="699.0" y="144.0" width="3" height="9"/>
<rect x="705.0" y="144.0" width="3" height="9"/>
<rect x="711.0" y="144.0" width="3" height="9"/>
<rect x="717.0" y="144.0" width="3" height="9"/>
<rect x="723.0" y="144.0" width="3" height="9"/>
<rect x="726.0" y="119.0" width="69.0" height="3"/>
<rect x="729.0" y="116.0" width="3" height="9"/>
<rect x="735.0" y="116.0" width="3" height="9"/>
<rect x="741.0" y="116.0" width="3" height="9"/>
<rect x="747.0" y="116.0" width="3" height="9"/>
<rect x="753.0" y="116.0" width="3" height="9"/>
<rect x="759.0" y="116.0" width="3" height="9"/>
<rect x="765.0" y="116.0" width="3" height="9"/>
<rect x="771.0" y="116.0" width="3" height="9"/>
<rect x="777.0" y="116.0" width="3" height="9"/>
<rect x="783.0" y="116.0" width="3" height="9"/>
<rect x="789.0" y="116.0" width="3" height="9"/>
<rect x="792.0" y="123.0" width="81.0" height="3"/>
<rect x="795.0" y="120.0" width="3" height="9"/>
<rect x="801.0" y="120.0" width="3" height="9"/>
<rect x="807.0" y="120.0" width="3" height="9"/>
<rect x="813.0" y="120.0" width="3" height="9"/>
<rect x="819.0" y="120.0" width="3" height="9"/>
<rect x="825.0" y="120.0" width="3" height="9"/>
<rect x="831.0" y="120.0" width="3" height="9"/>
<rect x="837.0" y="120.0" width="3" height="9"/>
<rect x="843.0" y="120.0" width="3" height="9"/>
<rect x="849.0" y="120.0" width="3" height="9"/>
<rect x="855.0" y="120.0" width="3" height="9"/>
<rect x="861.0" y="120.0" width="3" height="9"/>
<rect x="867.0" y="120.0" width="3" height="9"/>
<rect x="870.0" y="156.0" width="57.0" height="3"/>
<rect x="873.0" y="153.0" width="3" height="9"/>
<rect x="879.0" y="153.0" width="3" height="9"/>
<rect x="885.0" y="153.0" width="3" height="9"/>
<rect x="891.0" y="153.0" width="3" height="9"/>
<rect x="897.0" y="153.0" width="3" height="9"/>
<rect x="903.0" y="153.0" width="3" height="9"/>
<rect x="909.0" y="153.0" width="3" height="9"/>
<rect x="915.0" y="153.0" width="3" height="9"/>
<rect x="921.0" y="153.0" width="3" height="9"/>
<rect x="924.0" y="127.0" width="51.0" height="3"/>
<rect x="927.0" y="124.0" width="3" height="9"/>
<rect x="933.0" y="124.0" width="3" height="9"/>
<rect x="939.0" y="124.0" width="3" height="9"/>
<rect x="945.0" y="124.0" width="3" height="9"/>
<rect x="951.0" y="124.0" width="3" height="9"/>
<rect x="957.0" y="124.0" width="3" height="9"/>
<rect x="963.0" y="124.0" width="3" height="9"/>
<rect x="969.0" y="124.0" width="3" height="9"/>
<rect x="972.0" y="106.0" width="39.0" height="3"/>
<rect x="975.0" y="103.0" width="3" height="9"/>
<rect x="981.0" y="103.0" width="3" height="9"/>
<rect x="987.0" y="103.0" width="3" height="9"/>
<rect x="993.0" y="103.0" width="3" height="9"/>
<rect x="999.0" y="103.0" width="3" height="9"/>
<rect x="1005.0" y="103.0" width="3" height="9"/>
<rect x="1008.0" y="100.0" width="27.0" height="3"/>
<rect x="1011.0" y="97.0" width="3" height="9"/>
<rect x="1017.0" y="97.0" width="3" height="9"/>
<rect x="1023.0" y="97.0" width="3" height="9"/>
<rect x="1029.0" y="97.0" width="3" height="9"/>
<rect x="1032.0" y="94.0" width="45.0" height="3"/>
<rect x="1035.0" y="91.0" width="3" height="9"/>
<rect x="1041.0" y="91.0" width="3" height="9"/>
<rect x="1047.0" y="91.0" width="3" height="9"/>
<rect x="1053.0" y="91.0" width="3" height="9"/>
<rect x="1059.0" y="91.0" width="3" height="9"/>
<rect x="1065.0" y="91.0" width="3" height="9"/>
<rect x="1071.0" y="91.0" width="3" height="9"/>
<rect x="1074.0" y="88.0" width="93.0" height="3"/>
<rect x="1077.0" y="85.0" width="3" height="9"/>
<rect x="1083.0" y="85.0" width="3" height="9"/>
<rect x="1089.0" y="85.0" width="3" height="9"/>
<rect x="1095.0" y="85.0" width="3" height="9"/>
<rect x="1101.0" y="85.0" width="3" height="9"/>
<rect x="1107.0" y="85.0" width="3" height="9"/>
<rect x="1113.0" y="85.0" width="3" height="9"/>
<rect x="1119.0" y="85.0" width="3" height="9"/>
<rect x="1125.0" y="85.0" width="3" height="9"/>
<rect x="1131.0" y="85.0" width="3" height="9"/>
<rect x="1137.0" y="85.0" width="3" height="9"/>
<rect x="1143.0" y="85.0" width="3" height="9"/>
<rect x="1149.0" y="85.0" width="3" height="9"/>
<rect x="1155.0" y="85.0" width="3" height="9"/>
<rect x="1161.0" y="85.0" width="3" height="9"/>
<rect x="1164.0" y="101.0" width="111.0" height="3"/>
<rect x="1167.0" y="98.0" width="3" height="9"/>
<rect x="1173.0" y="98.0" width="3" height="9"/>
<rect x="1179.0" y="98.0" width="3" height="9"/>
<rect x="1185.0" y="98.0" width="3" height="9"/>
<rect x="1191.0" y="98.0" width="3" height="9"/>
<rect x="1197.0" y="98.0" width="3" height="9"/>
<rect x="1203.0" y="98.0" width="3" height="9"/>
<rect x="1209.0" y="98.0" width="3" height="9"/>
<rect x="1215.0" y="98.0" width="3" height="9"/>
<rect x="1221.0" y="98.0" width="3" height="9"/>
<rect x="1227.0" y="98.0" width="3" height="9"/>
<rect x="1233.0" y="98.0" width="3" height="9"/>
<rect x="1239.0" y="98.0" width="3" height="9"/>
<rect x="1245.0" y="98.0" width="3" height="9"/>
<rect x="1251.0" y="98.0" width="3" height="9"/>
<rect x="1257.0" y="98.0" width="3" height="9"/>
<rect x="1263.0" y="98.0" width="3" height="9"/>
<rect x="1269.0" y="98.0" width="3" height="9"/>
<rect x="1272.0" y="129.0" width="117.0" height="3"/>
<rect x="1275.0" y="126.0" width="3" height="9"/>
<rect x="1281.0" y="126.0" width="3" height="9"/>
<rect x="1287.0" y="126.0" width="3" height="9"/>
<rect x="1293.0" y="126.0" width="3" height="9"/>
<rect x="1299.0" y="126.0" width="3" height="9"/>
<rect x="1305.0" y="126.0" width="3" height="9"/>
<rect x="1311.0" y="126.0" width="3" height="9"/>
<rect x="1317.0" y="126.0" width="3" height="9"/>
<rect x="1323.0" y="126.0" width="3" height="9"/>
<rect x="1329.0" y="126.0" width="3" height="9"/>
<rect x="1335.0" y="126.0" width="3" height="9"/>
<rect x="1341.0" y="126.0" width="3" height="9"/>
<rect x="1347.0" y="126.0" width="3" height="9"/>
<rect x="1353.0" y="126.0" width="3" height="9"/>
<rect x="1359.0" y="126.0" width="3" height="9"/>
<rect x="1365.0" y="126.0" width="3" height="9"/>
<rect x="1371.0" y="126.0" width="3" height="9"/>
<rect x="1377.0" y="126.0" width="3" height="9"/>
<rect x="1383.0" y="126.0" width="3" height="9"/>
<rect x="1386.0" y="148.0" width="75.0" height="3"/>
<rect x="1389.0" y="145.0" width="3" height="9"/>
<rect x="1395.0" y="145.0" width="3" height="9"/>
<rect x="1401.0" y="145.0" width="3" height="9"/>
<rect x="1407.0" y="145.0" width="3" height="9"/>
<rect x="1413.0" y="145.0" width="3" height="9"/>
<rect x="1419.0" y="145.0" width="3" height="9"/>
<rect x="1425.0" y="145.0" width="3" height="9"/>
<rect x="1431.0" y="145.0" width="3" height="9"/>
<rect x="1437.0" y="145.0" width="3" height="9"/>
<rect x="1443.0" y="145.0" width="3" height="9"/>
<rect x="1449.0" y="145.0" width="3" height="9"/>
<rect x="1455.0" y="145.0" width="3" height="9"/></g>
<g fill="#673ab7" opacity="0.7" shape-rendering="crispEdges"><rect x="-6.0" y="356.0" width="57.0" height="3"/>
<rect x="-3.0" y="353.0" width="3" height="9"/>
<rect x="3.0" y="353.0" width="3" height="9"/>
<rect x="9.0" y="353.0" width="3" height="9"/>
<rect x="15.0" y="353.0" width="3" height="9"/>
<rect x="21.0" y="353.0" width="3" height="9"/>
<rect x="27.0" y="353.0" width="3" height="9"/>
<rect x="33.0" y="353.0" width="3" height="9"/>
<rect x="39.0" y="353.0" width="3" height="9"/>
<rect x="45.0" y="353.0" width="3" height="9"/>
<rect x="48.0" y="325.0" width="75.0" height="3"/>
<rect x="51.0" y="322.0" width="3" height="9"/>
<rect x="57.0" y="322.0" width="3" height="9"/>
<rect x="63.0" y="322.0" width="3" height="9"/>
<rect x="69.0" y="322.0" width="3" height="9"/>
<rect x="75.0" y="322.0" width="3" height="9"/>
<rect x="81.0" y="322.0" width="3" height="9"/>
<rect x="87.0" y="322.0" width="3" height="9"/>
<rect x="93.0" y="322.0" width="3" height="9"/>
<rect x="99.0" y="322.0" width="3" height="9"/>
<rect x="105.0" y="322.0" width="3" height="9"/>
<rect x="111.0" y="322.0" width="3" height="9"/>
<rect x="117.0" y="322.0" width="3" height="9"/>
<rect x="120.0" y="335.0" width="141.0" height="3"/>
<rect x="123.0" y="332.0" width="3" height="9"/>
<rect x="129.0" y="332.0" width="3" height="9"/>
<rect x="135.0" y="332.0" width="3" height="9"/>
<rect x="141.0" y="332.0" width="3" height="9"/>
<rect x="147.0" y="332.0" width="3" height="9"/>
<rect x="153.0" y="332.0" width="3" height="9"/>
<rect x="159.0" y="332.0" width="3" height="9"/>
<rect x="165.0" y="332.0" width="3" height="9"/>
<rect x="171.0" y="332.0" width="3" height="9"/>
<rect x="177.0" y="332.0" width="3" height="9"/>
<rect x="183.0" y="332.0" width="3" height="9"/>
<rect x="189.0" y="332.0" width="3" height="9"/>
<rect x="195.0" y="332.0" width="3" height="9"/>
<rect x="201.0" y="332.0" width="3" height="9"/>
<rect x="207.0" y="332.0" width="3" height="9"/>
<rect x="213.0" y="332.0" width="3" height="9"/>
<rect x="219.0" y="332.0" width="3" height="9"/>
<rect x="225.0" y="332.0" width="3" height="9"/>
<rect x="231.0" y="332.0" width="3" height="9"/>
<rect x="237.0" y="332.0" width="3" height="9"/>
<rect x="243.0" y="332.0" width="3" height="9"/>
<rect x="249.0" y="332.0" width="3" height="9"/>
<rect x="255.0" y="332.0" width="3" height="9"/>
<rect x="258.0" y="219.0" width="93.0" height="3"/>
<rect x="261.0" y="216.0" width="3" height="9"/>
<rect x="267.0" y="216.0" width="3" height="9"/>
<rect x="273.0" y="216.0" width="3" height="9"/>
<rect x="279.0" y="216.0" width="3" height="9"/>
<rect x="285.0" y="216.0" width="3" height="9"/>
<rect x="291.0" y="216.0" width="3" height="9"/>
<rect x="297.0" y="216.0" width="3" height="9"/>
<rect x="303.0" y="216.0" width="3" height="9"/>
<rect x="309.0" y="216.0" width="3" height="9"/>
<rect x="315.0" y="216.0" width="3" height="9"/>
<rect x="321.0" y="216.0" width="3" height="9"/>
<rect x="327.0" y="216.0" width="3" height="9"/>
<rect x="333.0" y="216.0" width="3" height="9"/>
<rect x="339.0" y="216.0" width="3" height="9"/>
<rect x="345.0" y="216.0" width="3" height="9"/>
<rect x="348.0" y="244.0" width="63.0" height="3"/>
<rect x="351.0" y="241.0" width="3" height="9"/>
<rect x="357.0" y="241.0" width="3" height="9"/>
<rect x="363.0" y="241.0" width="3" height="9"/>
<rect x="369.0" y="241.0" width="3" height="9"/>
<rect x="375.0" y="241.0" width="3" height="9"/>
<rect x="381.0" y="241.0" width="3" height="9"/>
<rect x="387.0" y="241.0" width="3" height="9"/>
<rect x="393.0" y="241.0" width="3" height="9"/>
<rect x="399.0" y="241.0" width="3" height="9"/>
<rect x="405.0" y="241.0" width="3" height="9"/>
<rect x="408.0" y="246.0" width="87.0" height="3"/>
<rect x="411.0" y="243.0" width="3" height="9"/>
<rect x="417.0" y="243.0" width="3" height="9"/>
<rect x="423.0" y="243.0" width="3" height="9"/>
<rect x="429.0" y="243.0" width="3" height="9"/>
<rect x="435.0" y="243.0" width="3" height="9"/>
<rect x="441.0" y="243.0" width="3" height="9"/>
<rect x="447.0" y="243.0" width="3" height="9"/>
<rect x="453.0" y="243.0" width="3" height="9"/>
<rect x="459.0" y="243.0" width="3" height="9"/>
<rect x="465.0" y="243.0" width="3" height="9"/>
<rect x="471.0" y="243.0" width="3" height="9"/>
<rect x="477.0" y="243.0" width="3" height="9"/>
<rect x="483.0" y="243.0" width="3" height="9"/>
<rect x="489.0" y="243.0" width="3" height="9"/>
<rect x="492.0" y="178.0" width="111.0" height="3"/>
<rect x="495.0" y="175.0" width="3" height="9"/>
<rect x="501.0" y="175.0" width="3" height="9"/>
<rect x="507.0" y="175.0" width="3" height="9"/>
<rect x="513.0" y="175.0" width="3" height="9"/>
<rect x="519.0" y="175.0" width="3" height="9"/>
<rect x="525.0" y="175.0" width="3" height="9"/>
<rect x="531.0" y="175.0" width="3" height="9"/>
<rect x="537.0" y="175.0" width="3" height="9"/>
<rect x="543.0" y="175.0" width="3" height="9"/>
<rect x="549.0" y="175.0" width="3" height="9"/>
<rect x="555.0" y="175.0" width="3" height="9"/>
<rect x="561.0" y="175.0" width="3" height="9"/>
<rect x="567.0" y="175.0" width="3" height="9"/>
<rect x="573.0" y="175.0" width="3" height="9"/>
<rect x="579.0" y="175.0" width="3" height="9"/>
<rect x="585.0" y="175.0" width="3" height="9"/>
<rect x="591.0" y="175.0" width="3" height="9"/>
<rect x="597.0" y="175.0" width="3" height="9"/>
<rect x="600.0" y="119.0" width="45.0" height="3"/>
<rect x="603.0" y="116.0" width="3" height="9"/>
<rect x="609.0" y="116.0" width="3" height="9"/>
<rect x="615.0" y="116.0" width="3" height="9"/>
<rect x="621.0" y="116.0" width="3" height="9"/>
<rect x="627.0" y="116.0" width="3" height="9"/>
<rect x="633.0" y="116.0" width="3" height="9"/>
<rect x="639.0" y="116.0" width="3" height="9"/>
<rect x="642.0" y="124.0" width="87.0" height="3"/>
<rect x="645.0" y="121.0" width="3" height="9"/>
<rect x="651.0" y="121.0" width="3" height="9"/>
<rect x="657.0" y="121.0" width="3" height="9"/>
<rect x="663.0" y="121.0" width="3" height="9"/>
<rect x="669.0" y="121.0" width="3" height="9"/>
<rect x="675.0" y="121.0" width="3" height="9"/>
<rect x="681.0" y="121.0" width="3" height="9"/>
<rect x="687.0" y="121.0" width="3" height="9"/>
<rect x="693.0" y="121.0" width="3" height="9"/>
<rect x="699.0" y="121.0" width="3" height="9"/>
<rect x="705.0" y="121.0" width="3" height="9"/>
<rect x="711.0" y="121.0" width="3" height="9"/>
<rect x="717.0" y="121.0" width="3" height="9"/>
<rect x="723.0" y="121.0" width="3" height="9"/>
<rect x="726.0" y="78.0" width="69.0" height="3"/>
<rect x="729.0" y="75.0" width="3" height="9"/>
<rect x="735.0" y="75.0" width="3" height="9"/>
<rect x="741.0" y="75.0" width="3" height="9"/>
<rect x="747.0" y="75.0" width="3" height="9"/>
<rect x="753.0" y="75.0" width="3" height="9"/>
<rect x="759.0" y="75.0" width="3" height="9"/>
<rect x="765.0" y="75.0" width="3" height="9"/>
<rect x="771.0" y="75.0" width="3" height="9"/>
<rect x="777.0" y="75.0" width="3" height="9"/>
<rect x="783.0" y="75.0" width="3" height="9"/>
<rect x="789.0" y="75.0" width="3" height="9"/>
<rect x="792.0" y="93.0" width="81.0" height="3"/>
<rect x="795.0" y="90.0" width="3" height="9"/>
<rect x="801.0" y="90.0" width="3" height="9"/>
<rect x="807.0" y="90.0" width="3" height="9"/>
<rect x="813.0" y="90.0" width="3" height="9"/>
<rect x="819.0" y="90.0" width="3" height="9"/>
<rect x="825.0" y="90.0" width="3" height="9"/>
<rect x="831.0" y="90.0" width="3" height="9"/>
<rect x="837.0" y="90.0" width="3" height="9"/>
<rect x="843.0" y="90.0" width="3" height="9"/>
<rect x="849.0" y="90.0" width="3" height="9"/>
<rect x="855.0" y="90.0" width="3" height="9"/>
<rect x="861.0" y="90.0" width="3" height="9"/>
<rect x="867.0" y="90.0" width="3" height="9"/>
<rect x="870.0" y="115.0" width="57.0" height="3"/>
<rect x="873.0" y="112.0" width="3" height="9"/>
<rect x="879.0" y="112.0" width="3" height="9"/>
<rect x="885.0" y="112.0" width="3" height="9"/>
<rect x="891.0" y="112.0" width="3" height="9"/>
<rect x="897.0" y="112.0" width="3" height="9"/>
<rect x="903.0" y="112.0" width="3" height="9"/>
<rect x="909.0" y="112.0" width="3" height="9"/>
<rect x="915.0" y="112.0" width="3" height="9"/>
<rect x="921.0" y="112.0" width="3" height="9"/>
<rect x="924.0" y="83.0" width="51.0" height="3"/>
<rect x="927.0" y="80.0" width="3" height="9"/>
<rect x="933.0" y="80.0" width="3" height="9"/>
<rect x="939.0" y="80.0" width="3" height="9"/>
<rect x="945.0" y="80.0" width="3" height="9"/>
<rect x="951.0" y="80.0" width="3" height="9"/>
<rect x="957.0" y="80.0" width="3" height="9"/>
<rect x="963.0" y="80.0" width="3" height="9"/>
<rect x="969.0" y="80.0" width="3" height="9"/>
<rect x="972.0" y="81.0" width="39.0" height="3"/>
<rect x="975.0" y="78.0" width="3" height="9"/>
<rect x="981.0" y="78.0" width="3" height="9"/>
<rect x="987.0" y="78.0" width="3" height="9"/>
<rect x="993.0" y="78.0" width="3" height="9"/>
<rect x="999.0" y="78.0" width="3" height="9"/>
<rect x="1005.0" y="78.0" width="3" height="9"/>
<rect x="1008.0" y="77.0" width="21.0" height="3"/>
<rect x="1011.0" y="74.0" width="3" height="9"/>
<rect x="1017.0" y="74.0" width="3" height="9"/>
<rect x="1023.0" y="74.0" width="3" height="9"/>
<rect x="1026.0" y="74.0" width="51.0" height="3"/>
<rect x="1029.0" y="71.0" width="3" height="9"/>
<rect x="1035.0" y="71.0" width="3" height="9"/>
<rect x="1041.0" y="71.0" width="3" height="9"/>
<rect x="1047.0" y="71.0" width="3" height="9"/>
<rect x="1053.0" y="71.0" width="3" height="9"/>
<rect x="1059.0" y="71.0" width="3" height="9"/>
<rect x="1065.0" y="71.0" width="3" height="9"/>
<rect x="1071.0" y="71.0" width="3" height="9"/>
<rect x="1074.0" y="55.0" width="201.0" height="3"/>
<rect x="1077.0" y="52.0" width="3" height="9"/>
<rect x="1083.0" y="52.0" width="3" height="9"/>
<rect x="1089.0" y="52.0" width="3" height="9"/>
<rect x="1095.0" y="52.0" width="3" height="9"/>
<rect x="1101.0" y="52.0" width="3" height="9"/>
<rect x="1107.0" y="52.0" width="3" height="9"/>
<rect x="1113.0" y="52.0" width="3" height="9"/>
<rect x="1119.0" y="52.0" width="3" height="9"/>
<rect x="1125.0" y="52.0" width="3" height="9"/>
<rect x="1131.0" y="52.0" width="3" height="9"/>
<rect x="1137.0" y="52.0" width="3" height="9"/>
<rect x="1143.0" y="52.0" width="3" height="9"/>
<rect x="1149.0" y="52.0" width="3" height="9"/>
<rect x="1155.0" y="52.0" width="3" height="9"/>
<rect x="1161.0" y="52.0" width="3" height="9"/>
<rect x="1167.0" y="52.0" width="3" height="9"/>
<rect x="1173.0" y="52.0" width="3" height="9"/>
<rect x="1179.0" y="52.0" width="3" height="9"/>
<rect x="1185.0" y="52.0" width="3" height="9"/>
<rect x="1191.0" y="52.0" width="3" height="9"/>
<rect x="1197.0" y="52.0" width="3" height="9"/>
<rect x="1203.0" y="52.0" width="3" height="9"/>
<rect x="1209.0" y="52.0" width="3" height="9"/>
<rect x="1215.0" y="52.0" width="3" height="9"/>
<rect x="1221.0" y="52.0" width="3" height="9"/>
<rect x="1227.0" y="52.0" width="3" height="9"/>
<rect x="1233.0" y="52.0" width="3" height="9"/>
<rect x="1239.0" y="52.0" width="3" height="9"/>
<rect x="1245.0" y="52.0" width="3" height="9"/>
<rect x="1251.0" y="52.0" width="3" height="9"/>
<rect x="1257.0" y="52.0" width="3" height="9"/>
<rect x="1263.0" y="52.0" width="3" height="9"/>
<rect x="1269.0" y="52.0" width="3" height="9"/>
<rect x="1272.0" y="92.0" width="117.0" height="3"/>
<rect x="1275.0" y="89.0" width="3" height="9"/>
<rect x="1281.0" y="89.0" width="3" height="9"/>
<rect x="1287.0" y="89.0" width="3" height="9"/>
<rect x="1293.0" y="89.0" width="3" height="9"/>
<rect x="1299.0" y="89.0" width="3" height="9"/>
<rect x="1305.0" y="89.0" width="3" height="9"/>
<rect x="1311.0" y="89.0" width="3" height="9"/>
<rect x="1317.0" y="89.0" width="3" height="9"/>
<rect x="1323.0" y="89.0" width="3" height="9"/>
<rect x="1329.0" y="89.0" width="3" height="9"/>
<rect x="1335.0" y="89.0" width="3" height="9"/>
<rect x="1341.0" y="89.0" width="3" height="9"/>
<rect x="1347.0" y="89.0" width="3" height="9"/>
<rect x="1353.0" y="89.0" width="3" height="9"/>
<rect x="1359.0" y="89.0" width="3" height="9"/>
<rect x="1365.0" y="89.0" width="3" height="9"/>
<rect x="1371.0" y="89.0" width="3" height="9"/>
<rect x="1377.0" y="89.0" width="3" height="9"/>
<rect x="1383.0" y="89.0" width="3" height="9"/>
<rect x="1386.0" y="129.0" width="75.0" height="3"/>
<rect x="1389.0" y="126.0" width="3" height="9"/>
<rect x="1395.0" y="126.0" width="3" height="9"/>
<rect x="1401.0" y="126.0" width="3" height="9"/>
<rect x="1407.0" y="126.0" width="3" height="9"/>
<rect x="1413.0" y="126.0" width="3" height="9"/>
<rect x="1419.0" y="126.0" width="3" height="9"/>
<rect x="1425.0" y="126.0" width="3" height="9"/>
<rect x="1431.0" y="126.0" width="3" height="9"/>
<rect x="1437.0" y="126.0" width="3" height="9"/>
<rect x="1443.0" y="126.0" width="3" height="9"/>
<rect x="1449.0" y="126.0" width="3" height="9"/>
<rect x="1455.0" y="126.0" width="3" height="9"/></g>
<path d="M0.0,270.0 C6.9,271.6 27.7,277.0 41.6,279.6 C55.5,282.2 69.4,283.9 83.3,285.8 C97.2,287.7 111.1,289.0 125.0,290.8 C138.9,292.6 156.2,295.3 166.6,296.6 C177.0,297.9 180.5,298.3 187.4,298.7 C194.3,299.1 197.6,299.4 208.0,299.1 C218.4,298.8 236.1,297.9 250.0,296.8 C263.9,295.7 278.2,293.7 291.5,292.3 C304.8,290.9 316.6,289.6 330.0,288.6 C343.4,287.6 357.7,287.0 371.6,286.4 C385.5,285.8 399.4,285.9 413.3,285.0 C427.2,284.1 441.1,282.8 455.0,281.2 C468.9,279.6 482.8,277.5 496.6,275.6 C510.4,273.7 524.1,271.7 538.0,269.7 C551.9,267.7 566.1,266.3 580.0,263.5 C593.9,260.7 611.5,255.7 621.5,253.1 C631.5,250.5 629.4,250.6 640.0,247.7 C650.6,244.8 670.3,239.9 685.4,235.9 C700.5,231.9 715.6,227.7 730.8,223.8 C745.9,219.9 761.1,215.9 776.3,212.5 C791.4,209.1 806.6,206.2 821.7,203.4 C836.8,200.6 851.9,197.9 867.0,195.4 C882.1,192.9 897.3,191.2 912.5,188.6 C927.7,185.9 943.4,182.1 958.0,179.5 C972.6,176.9 982.7,175.6 1000.0,173.0 C1017.3,170.4 1041.2,168.0 1061.8,164.1 C1082.4,160.2 1109.6,152.6 1123.6,149.6 C1137.6,146.6 1139.9,147.0 1146.0,146.0 C1152.1,145.0 1155.2,144.6 1160.0,143.8 C1164.8,143.0 1169.7,142.2 1174.5,141.3 C1179.3,140.4 1184.0,139.3 1188.7,138.6 C1193.5,137.8 1198.2,137.3 1203.0,136.8 C1207.8,136.3 1212.5,135.8 1217.2,135.8 C1222.0,135.8 1226.8,136.7 1231.5,137.0 C1236.2,137.3 1241.0,137.4 1245.7,137.4 C1250.5,137.4 1255.2,137.2 1260.0,136.9 C1264.8,136.6 1269.5,136.2 1274.2,135.8 C1278.9,135.4 1283.7,134.8 1288.4,134.5 C1293.2,134.2 1293.9,133.9 1302.7,134.0 C1311.5,134.1 1328.3,134.8 1341.5,135.2 C1354.7,135.6 1368.6,136.1 1382.0,136.2 C1395.4,136.3 1410.2,136.2 1422.0,136.0 C1433.8,135.8 1444.1,135.5 1452.6,135.0 C1461.1,134.5 1467.1,133.8 1472.8,133.0 C1478.5,132.2 1484.6,130.7 1487.0,130.2" fill="none" stroke="#4caf50" stroke-width="3" stroke-linejoin="round"/>
<line x1="1" y1="38.5" x2="1520" y2="38.5" stroke="#26a69a" stroke-width="1" stroke-dasharray="1 2" shape-rendering="crispEdges"/>
</g>
<g clip-path="url(#c2)" fill="none" stroke-width="1.05" stroke-linejoin="round">
<path d="M0.0,459.4 C2.7,459.3 8.2,459.3 16.4,459.0 C24.6,458.7 38.3,457.5 49.2,457.4 C60.1,457.3 72.4,458.1 82.0,458.5 C91.6,458.9 98.4,458.9 106.6,459.7 C114.8,460.4 123.0,462.0 131.2,463.0 C139.4,464.0 147.6,465.7 155.8,465.9 C164.0,466.1 173.6,464.8 180.4,464.0 C187.2,463.2 191.4,462.9 196.9,461.3 C202.4,459.7 207.8,456.5 213.3,454.4 C218.8,452.3 224.2,450.5 229.7,448.7 C235.1,446.9 240.9,445.1 246.0,443.8 C251.1,442.6 255.1,441.8 260.0,441.2 C264.9,440.6 269.5,440.3 275.7,440.4 C281.9,440.5 289.4,440.7 297.0,441.7 C304.6,442.7 312.0,444.0 321.6,446.6 C331.2,449.2 343.5,454.6 354.4,457.3 C365.3,460.0 376.3,461.2 387.2,462.7 C398.1,464.1 411.8,465.3 420.0,466.0 C428.2,466.7 429.6,467.2 436.4,467.1 C443.2,467.0 452.8,466.1 461.0,465.5 C469.2,464.9 476.5,463.4 485.7,463.3 C494.9,463.2 505.5,464.2 516.0,465.0 C526.5,465.8 537.9,467.5 548.8,468.3 C559.7,469.1 570.7,469.5 581.6,469.6 C592.5,469.8 603.5,469.3 614.4,469.2 C625.3,469.1 636.3,468.9 647.2,469.2 C658.1,469.5 671.8,470.2 680.0,470.9 C688.2,471.6 690.9,472.6 696.4,473.2 C701.9,473.8 704.7,473.7 712.9,474.2 C721.1,474.7 735.2,475.5 745.7,476.1 C756.2,476.7 766.6,477.1 776.0,477.6 C785.4,478.2 794.0,478.4 802.2,479.4 C810.4,480.4 817.3,482.0 825.2,483.5 C833.1,485.0 841.6,486.3 849.8,488.4 C858.0,490.4 866.2,493.6 874.4,495.8 C882.6,498.0 890.8,499.9 899.0,501.5 C907.2,503.1 916.8,504.8 923.6,505.6 C930.4,506.4 933.2,506.1 940.0,506.4 C946.8,506.7 956.4,506.9 964.6,507.3 C972.8,507.7 981.1,507.8 989.3,508.6 C997.5,509.4 1006.1,511.1 1013.9,512.2 C1021.7,513.3 1026.7,513.9 1036.0,515.3 C1045.3,516.7 1058.5,518.6 1069.7,520.4 C1080.9,522.1 1092.2,524.3 1103.4,525.8 C1114.6,527.3 1128.6,528.6 1137.0,529.2 C1145.4,529.8 1148.3,529.1 1153.9,529.5 C1159.5,529.9 1162.3,530.2 1170.7,531.7 C1179.1,533.2 1193.2,536.2 1204.4,538.4 C1215.6,540.6 1226.9,542.6 1238.1,545.1 C1249.3,547.6 1262.1,551.5 1271.8,553.6 C1281.5,555.8 1289.1,557.1 1296.0,558.0 C1302.9,558.9 1307.8,558.6 1313.3,559.2 C1318.8,559.8 1323.1,560.7 1328.9,561.7 C1334.7,562.7 1341.8,563.9 1348.3,565.0 C1354.8,566.1 1361.2,567.4 1367.7,568.3 C1374.2,569.2 1380.6,570.0 1387.1,570.3 C1393.6,570.6 1400.1,570.5 1406.6,570.3 C1413.1,570.1 1420.2,569.6 1426.0,568.9 C1431.8,568.2 1436.4,567.1 1441.5,566.0 C1446.6,564.9 1454.0,562.8 1456.5,562.1" stroke="#f7525f" stroke-width="1.1"/>
<polyline points="-1.5,460.5 4.5,458.1 10.5,457.4 16.5,454.8 22.5,454.1 28.5,454.0 34.5,454.1 40.5,453.8 46.5,459.4 52.5,457.7 58.5,462.3 64.5,463.0 70.5,462.7 76.5,463.5 82.5,464.6 88.5,463.0 94.5,463.1 100.5,464.0 106.5,467.6 112.5,472.8 118.5,472.8 124.5,472.5 130.5,471.2 136.5,469.2 142.5,466.8 148.5,465.1 154.5,466.3 160.5,457.4 166.5,456.4 172.5,447.9 178.5,450.7 184.5,449.5 190.5,445.4 196.5,448.7 202.5,434.8 208.5,430.7 214.5,430.2 220.5,429.5 226.5,431.8 232.5,432.8 238.5,431.2 244.5,433.9 250.5,436.7 256.5,440.0 262.5,454.0 268.5,450.2 274.5,448.2 280.5,449.9 286.5,455.6 292.5,456.1 298.5,457.3 304.5,459.7 310.5,454.5 316.5,460.1 322.5,457.3 328.5,457.8 334.5,466.3 340.5,470.7 346.5,467.6 352.5,470.4 358.5,470.4 364.5,466.0 370.5,470.9 376.5,468.8 382.5,466.3 388.5,462.7 394.5,466.0 400.5,468.8 406.5,470.7 412.5,467.9 418.5,465.0 424.5,464.3 430.5,463.3 436.5,462.2 442.5,462.2 448.5,460.1 454.5,462.2 460.5,461.4 466.5,461.0 472.5,455.6 478.5,460.1 484.5,462.2 490.5,468.8 496.5,469.2 502.5,475.8 508.5,476.1 514.5,472.5 520.5,472.5 526.5,471.2 532.5,472.5 538.5,473.2 544.5,473.7 550.5,476.1 556.5,474.2 562.5,462.7 568.5,466.0 574.5,466.3 580.5,456.1 586.5,459.7 592.5,463.0 598.5,467.1 604.5,466.3 610.5,469.6 616.5,475.8 622.5,473.2 628.5,475.3 634.5,472.5 640.5,472.5 646.5,473.2 652.5,475.8 658.5,474.5 664.5,473.7 670.5,478.6 676.5,476.1 682.5,474.2 688.5,477.0 694.5,474.5 700.5,472.0 706.5,469.6 712.5,476.1 718.5,478.1 724.5,479.7 730.5,478.6 736.5,480.2 742.5,485.6 748.5,478.6 754.5,476.5 760.5,484.3 766.5,480.7 772.5,479.7 778.5,479.0 784.5,481.8 790.5,484.0 796.5,483.0 802.5,484.0 808.5,487.6 814.5,491.7 820.5,497.4 826.5,495.8 832.5,499.1 838.5,501.5 844.5,503.2 850.5,501.0 856.5,508.6 862.5,511.4 868.5,515.5 874.5,513.0 880.5,511.9 886.5,507.3 892.5,508.6 898.5,503.2 904.5,502.7 910.5,502.7 916.5,505.3 922.5,509.7 928.5,508.6 934.5,508.6 940.5,502.3 946.5,502.0 952.5,507.3 958.5,507.6 964.5,509.7 970.5,512.5 976.5,517.4 982.5,517.4 988.5,516.3 994.5,518.7 1000.5,521.2 1006.5,525.0 1012.5,520.4 1018.5,521.2 1024.5,520.7 1030.5,523.3 1036.5,522.8 1042.5,522.4 1048.5,522.1 1054.5,520.7 1060.5,522.1 1066.5,524.1 1072.5,528.8 1078.5,532.5 1084.5,531.7 1090.5,529.2 1096.5,532.2 1102.5,537.9 1108.5,538.4 1114.5,535.0 1120.5,532.5 1126.5,530.5 1132.5,529.5 1138.5,530.0 1144.5,526.1 1150.5,522.4 1156.5,527.8 1162.5,538.4 1168.5,536.7 1174.5,541.8 1180.5,545.7 1186.5,548.5 1192.5,551.0 1198.5,562.5 1204.5,562.0 1210.5,555.8 1216.5,555.8 1222.5,553.1 1228.5,556.9 1234.5,557.4 1240.5,556.9 1246.5,553.6 1252.5,551.4 1258.5,551.9 1264.5,559.8 1270.5,562.5 1276.5,562.0 1282.5,563.2 1288.5,569.6 1294.5,565.6 1300.5,566.4 1306.5,563.7 1312.5,562.5 1318.5,569.5 1324.5,572.8 1330.5,572.2 1336.5,573.4 1342.5,574.2 1348.5,572.8 1354.5,569.5 1360.5,570.3 1366.5,572.8 1372.5,571.8 1378.5,573.8 1384.5,576.7 1390.5,575.3 1396.5,567.9 1402.5,566.4 1408.5,563.1 1414.5,559.8 1420.5,557.8 1426.5,559.2 1432.5,556.3 1438.5,550.5 1444.5,543.7 1450.5,541.7 1456.5,539.2" stroke="#4caf50"/>
<polyline points="-1.5,531.5 4.5,520.0 10.5,518.1 16.5,500.4 22.5,496.3 28.5,490.5 34.5,484.3 40.5,481.5 46.5,497.4 52.5,495.5 58.5,508.6 64.5,502.0 70.5,499.6 76.5,501.2 82.5,503.7 88.5,502.0 94.5,497.9 100.5,497.9 106.5,508.6 112.5,529.1 118.5,524.7 124.5,529.1 130.5,520.9 136.5,505.6 142.5,504.0 148.5,497.4 154.5,496.3 160.5,470.0 166.5,468.1 172.5,450.3 178.5,459.4 184.5,456.1 190.5,445.9 196.5,476.6 202.5,454.4 208.5,447.9 214.5,443.0 220.5,438.4 226.5,438.9 232.5,437.2 238.5,433.1 244.5,430.2 250.5,430.7 256.5,439.7 262.5,475.3 268.5,466.3 274.5,456.1 280.5,459.4 286.5,476.1 292.5,477.0 298.5,478.6 304.5,482.7 310.5,472.5 316.5,483.5 322.5,475.8 328.5,477.0 334.5,495.8 340.5,516.8 346.5,508.1 352.5,513.0 358.5,513.0 364.5,498.3 370.5,509.8 376.5,506.0 382.5,495.8 388.5,486.0 394.5,489.6 400.5,493.9 406.5,501.9 412.5,483.5 418.5,472.0 424.5,466.3 430.5,471.2 436.5,465.5 442.5,464.3 448.5,458.9 454.5,457.8 460.5,458.1 466.5,454.0 472.5,441.7 478.5,448.2 484.5,459.7 490.5,475.3 496.5,475.8 502.5,487.9 508.5,493.9 514.5,486.0 520.5,481.4 526.5,475.3 532.5,475.8 538.5,476.1 544.5,468.8 550.5,469.6 556.5,458.9 562.5,440.4 568.5,451.9 574.5,444.1 580.5,429.4 586.5,434.3 592.5,438.4 598.5,447.4 604.5,443.3 610.5,449.6 616.5,455.6 622.5,447.9 628.5,447.4 634.5,456.4 640.5,450.2 646.5,454.8 652.5,468.3 658.5,469.6 664.5,452.3 670.5,465.5 676.5,461.4 682.5,459.4 688.5,460.5 694.5,454.0 700.5,447.4 706.5,440.4 712.5,443.7 718.5,457.8 724.5,470.9 730.5,466.6 736.5,482.7 742.5,499.4 748.5,481.9 754.5,477.0 760.5,492.2 766.5,492.9 772.5,483.5 778.5,476.4 784.5,483.0 790.5,489.5 796.5,487.9 802.5,485.6 808.5,493.3 814.5,504.8 820.5,518.7 826.5,514.1 832.5,520.4 838.5,526.6 844.5,528.6 850.5,522.0 856.5,502.7 862.5,505.9 868.5,509.7 874.5,500.7 880.5,495.4 886.5,485.1 892.5,484.0 898.5,470.3 904.5,469.2 910.5,465.4 916.5,475.3 922.5,492.8 928.5,498.7 934.5,497.4 940.5,479.7 946.5,475.8 952.5,478.6 958.5,470.3 964.5,476.9 970.5,484.3 976.5,495.0 982.5,496.1 988.5,485.6 994.5,476.9 1000.5,479.4 1006.5,486.3 1012.5,475.3 1018.5,477.4 1024.5,473.1 1030.5,479.4 1036.5,472.8 1042.5,471.0 1048.5,466.0 1054.5,458.1 1060.5,458.4 1066.5,466.0 1072.5,476.9 1078.5,498.8 1084.5,490.4 1090.5,482.8 1096.5,482.3 1102.5,500.2 1108.5,501.4 1114.5,492.1 1120.5,486.7 1126.5,484.5 1132.5,480.6 1138.5,490.8 1144.5,483.7 1150.5,473.9 1156.5,495.8 1162.5,524.1 1168.5,506.4 1174.5,519.9 1180.5,526.6 1186.5,532.5 1192.5,540.1 1198.5,566.2 1204.5,559.5 1210.5,540.9 1216.5,535.6 1222.5,522.4 1228.5,529.5 1234.5,528.3 1240.5,524.9 1246.5,513.7 1252.5,508.1 1258.5,503.6 1264.5,522.1 1270.5,525.4 1276.5,524.9 1282.5,531.2 1288.5,543.0 1294.5,531.4 1300.5,534.5 1306.5,526.2 1312.5,521.3 1318.5,534.9 1324.5,540.4 1330.5,537.2 1336.5,544.2 1342.5,547.5 1348.5,533.0 1354.5,519.4 1360.5,522.3 1366.5,526.2 1372.5,517.4 1378.5,520.3 1384.5,527.1 1390.5,523.6 1396.5,506.2 1402.5,497.0 1408.5,494.1 1414.5,493.1 1420.5,486.3 1426.5,489.8 1432.5,484.8 1438.5,476.2 1444.5,462.1 1450.5,451.0 1456.5,437.4" stroke="#8e24aa"/>
</g>
<g clip-path="url(#c3)">
<g shape-rendering="crispEdges"><rect x="-4.0" y="689.2" width="5" height="0.8" fill="#26a69a"/><rect x="2.0" y="686.7" width="5" height="3.3" fill="#26a69a"/><rect x="8.0" y="684.8" width="5" height="5.2" fill="#26a69a"/><rect x="14.0" y="680.7" width="5" height="9.3" fill="#26a69a"/><rect x="20.0" y="677.9" width="5" height="12.1" fill="#26a69a"/><rect x="26.0" y="675.6" width="5" height="14.4" fill="#26a69a"/><rect x="32.0" y="673.4" width="5" height="16.6" fill="#26a69a"/><rect x="38.0" y="672.4" width="5" height="17.6" fill="#26a69a"/><rect x="44.0" y="674.9" width="5" height="15.1" fill="#b2dfdb"/><rect x="50.0" y="676.7" width="5" height="13.3" fill="#b2dfdb"/><rect x="56.0" y="680.8" width="5" height="9.2" fill="#b2dfdb"/><rect x="62.0" y="682.5" width="5" height="7.5" fill="#b2dfdb"/><rect x="68.0" y="683.7" width="5" height="6.3" fill="#b2dfdb"/><rect x="74.0" y="685.1" width="5" height="4.9" fill="#b2dfdb"/><rect x="80.0" y="686.5" width="5" height="3.5" fill="#b2dfdb"/><rect x="86.0" y="687.3" width="5" height="2.7" fill="#b2dfdb"/><rect x="92.0" y="687.5" width="5" height="2.5" fill="#b2dfdb"/><rect x="98.0" y="687.9" width="5" height="2.1" fill="#b2dfdb"/><rect x="104.0" y="689.6" width="5" height="0.4" fill="#b2dfdb"/><rect x="110.0" y="690.0" width="5" height="3.9" fill="#ff5252"/><rect x="116.0" y="690.0" width="5" height="5.9" fill="#ff5252"/><rect x="122.0" y="690.0" width="5" height="7.4" fill="#ff5252"/><rect x="128.0" y="690.0" width="5" height="7.1" fill="#ffcdd2"/><rect x="134.0" y="690.0" width="5" height="4.5" fill="#ffcdd2"/><rect x="140.0" y="690.0" width="5" height="2.4" fill="#ffcdd2"/><rect x="146.0" y="690.0" width="5" height="0.0" fill="#26a69a"/><rect x="152.0" y="688.6" width="5" height="1.4" fill="#26a69a"/><rect x="158.0" y="683.3" width="5" height="6.7" fill="#26a69a"/><rect x="164.0" y="680.1" width="5" height="9.9" fill="#26a69a"/><rect x="170.0" y="674.7" width="5" height="15.3" fill="#26a69a"/><rect x="176.0" y="673.4" width="5" height="16.6" fill="#26a69a"/><rect x="182.0" y="673.1" width="5" height="16.9" fill="#26a69a"/><rect x="188.0" y="671.2" width="5" height="18.8" fill="#26a69a"/><rect x="194.0" y="675.4" width="5" height="14.6" fill="#b2dfdb"/><rect x="200.0" y="673.6" width="5" height="16.4" fill="#26a69a"/><rect x="206.0" y="671.3" width="5" height="18.7" fill="#26a69a"/><rect x="212.0" y="669.8" width="5" height="20.2" fill="#26a69a"/><rect x="218.0" y="668.6" width="5" height="21.4" fill="#26a69a"/><rect x="224.0" y="669.5" width="5" height="20.5" fill="#b2dfdb"/><rect x="230.0" y="671.3" width="5" height="18.7" fill="#b2dfdb"/><rect x="236.0" y="672.4" width="5" height="17.6" fill="#b2dfdb"/><rect x="242.0" y="673.6" width="5" height="16.4" fill="#b2dfdb"/><rect x="248.0" y="675.7" width="5" height="14.3" fill="#b2dfdb"/><rect x="254.0" y="679.6" width="5" height="10.4" fill="#b2dfdb"/><rect x="260.0" y="688.1" width="5" height="1.9" fill="#b2dfdb"/><rect x="266.0" y="690.0" width="5" height="2.1" fill="#ff5252"/><rect x="272.0" y="690.0" width="5" height="2.0" fill="#ffcdd2"/><rect x="278.0" y="690.0" width="5" height="3.0" fill="#ff5252"/><rect x="284.0" y="690.0" width="5" height="6.9" fill="#ff5252"/><rect x="290.0" y="690.0" width="5" height="9.7" fill="#ff5252"/><rect x="296.0" y="690.0" width="5" height="11.6" fill="#ff5252"/><rect x="302.0" y="690.0" width="5" height="13.6" fill="#ff5252"/><rect x="308.0" y="690.0" width="5" height="12.3" fill="#ffcdd2"/><rect x="314.0" y="690.0" width="5" height="13.2" fill="#ff5252"/><rect x="320.0" y="690.0" width="5" height="11.7" fill="#ffcdd2"/><rect x="326.0" y="690.0" width="5" height="10.8" fill="#ffcdd2"/><rect x="332.0" y="690.0" width="5" height="13.0" fill="#ff5252"/><rect x="338.0" y="690.0" width="5" height="17.7" fill="#ff5252"/><rect x="344.0" y="690.0" width="5" height="18.9" fill="#ff5252"/><rect x="350.0" y="690.0" width="5" height="20.0" fill="#ff5252"/><rect x="356.0" y="690.0" width="5" height="19.8" fill="#ffcdd2"/><rect x="362.0" y="690.0" width="5" height="15.8" fill="#ffcdd2"/><rect x="368.0" y="690.0" width="5" height="15.1" fill="#ffcdd2"/><rect x="374.0" y="690.0" width="5" height="13.1" fill="#ffcdd2"/><rect x="380.0" y="690.0" width="5" height="9.4" fill="#ffcdd2"/><rect x="386.0" y="690.0" width="5" height="4.2" fill="#ffcdd2"/><rect x="392.0" y="690.0" width="5" height="1.9" fill="#ffcdd2"/><rect x="398.0" y="690.0" width="5" height="1.1" fill="#ffcdd2"/><rect x="404.0" y="690.0" width="5" height="1.8" fill="#ff5252"/><rect x="410.0" y="688.3" width="5" height="1.7" fill="#26a69a"/><rect x="416.0" y="683.3" width="5" height="6.7" fill="#26a69a"/><rect x="422.0" y="679.1" width="5" height="10.9" fill="#26a69a"/><rect x="428.0" y="678.0" width="5" height="12.0" fill="#26a69a"/><rect x="434.0" y="676.4" width="5" height="13.6" fill="#26a69a"/><rect x="440.0" y="676.1" width="5" height="13.9" fill="#26a69a"/><rect x="446.0" y="675.3" width="5" height="14.7" fill="#26a69a"/><rect x="452.0" y="675.8" width="5" height="14.2" fill="#b2dfdb"/><rect x="458.0" y="677.0" width="5" height="13.0" fill="#b2dfdb"/><rect x="464.0" y="677.5" width="5" height="12.5" fill="#b2dfdb"/><rect x="470.0" y="675.3" width="5" height="14.7" fill="#26a69a"/><rect x="476.0" y="676.1" width="5" height="13.9" fill="#b2dfdb"/><rect x="482.0" y="679.2" width="5" height="10.8" fill="#b2dfdb"/><rect x="488.0" y="684.6" width="5" height="5.4" fill="#b2dfdb"/><rect x="494.0" y="688.7" width="5" height="1.3" fill="#b2dfdb"/><rect x="500.0" y="690.0" width="5" height="3.8" fill="#ff5252"/><rect x="506.0" y="690.0" width="5" height="7.9" fill="#ff5252"/><rect x="512.0" y="690.0" width="5" height="9.2" fill="#ff5252"/><rect x="518.0" y="690.0" width="5" height="8.8" fill="#ffcdd2"/><rect x="524.0" y="690.0" width="5" height="7.0" fill="#ffcdd2"/><rect x="530.0" y="690.0" width="5" height="6.2" fill="#ffcdd2"/><rect x="536.0" y="690.0" width="5" height="5.7" fill="#ffcdd2"/><rect x="542.0" y="690.0" width="5" height="3.8" fill="#ffcdd2"/><rect x="548.0" y="690.0" width="5" height="3.0" fill="#ffcdd2"/><rect x="554.0" y="690.0" width="5" height="0.4" fill="#ffcdd2"/><rect x="560.0" y="683.9" width="5" height="6.1" fill="#26a69a"/><rect x="566.0" y="682.1" width="5" height="7.9" fill="#26a69a"/><rect x="572.0" y="679.5" width="5" height="10.5" fill="#26a69a"/><rect x="578.0" y="673.5" width="5" height="16.5" fill="#26a69a"/><rect x="584.0" y="671.8" width="5" height="18.2" fill="#26a69a"/><rect x="590.0" y="672.7" width="5" height="17.3" fill="#b2dfdb"/><rect x="596.0" y="676.0" width="5" height="14.0" fill="#b2dfdb"/><rect x="602.0" y="677.9" width="5" height="12.1" fill="#b2dfdb"/><rect x="608.0" y="681.0" width="5" height="9.0" fill="#b2dfdb"/><rect x="614.0" y="685.2" width="5" height="4.8" fill="#b2dfdb"/><rect x="620.0" y="686.1" width="5" height="3.9" fill="#b2dfdb"/><rect x="626.0" y="687.6" width="5" height="2.4" fill="#b2dfdb"/><rect x="632.0" y="690.0" width="5" height="0.2" fill="#ff5252"/><rect x="638.0" y="690.0" width="5" height="0.7" fill="#ff5252"/><rect x="644.0" y="690.0" width="5" height="2.2" fill="#ff5252"/><rect x="650.0" y="690.0" width="5" height="5.5" fill="#ff5252"/><rect x="656.0" y="690.0" width="5" height="8.0" fill="#ff5252"/><rect x="662.0" y="690.0" width="5" height="5.6" fill="#ffcdd2"/><rect x="668.0" y="690.0" width="5" height="6.3" fill="#ff5252"/><rect x="674.0" y="690.0" width="5" height="5.5" fill="#ffcdd2"/><rect x="680.0" y="690.0" width="5" height="4.8" fill="#ffcdd2"/><rect x="686.0" y="690.0" width="5" height="4.8" fill="#ff5252"/><rect x="692.0" y="690.0" width="5" height="3.4" fill="#ffcdd2"/><rect x="698.0" y="690.0" width="5" height="1.3" fill="#ffcdd2"/><rect x="704.0" y="688.1" width="5" height="1.9" fill="#26a69a"/><rect x="710.0" y="687.2" width="5" height="2.8" fill="#26a69a"/><rect x="716.0" y="689.1" width="5" height="0.9" fill="#b2dfdb"/><rect x="722.0" y="690.0" width="5" height="2.7" fill="#ff5252"/><rect x="728.0" y="690.0" width="5" height="4.3" fill="#ff5252"/><rect x="734.0" y="690.0" width="5" height="7.9" fill="#ff5252"/><rect x="740.0" y="690.0" width="5" height="13.2" fill="#ff5252"/><rect x="746.0" y="690.0" width="5" height="12.3" fill="#ffcdd2"/><rect x="752.0" y="690.0" width="5" height="10.1" fill="#ffcdd2"/><rect x="758.0" y="690.0" width="5" height="11.4" fill="#ff5252"/><rect x="764.0" y="690.0" width="5" height="11.8" fill="#ff5252"/><rect x="770.0" y="690.0" width="5" height="10.0" fill="#ffcdd2"/><rect x="776.0" y="690.0" width="5" height="6.8" fill="#ffcdd2"/><rect x="782.0" y="690.0" width="5" height="5.9" fill="#ffcdd2"/><rect x="788.0" y="690.0" width="5" height="6.4" fill="#ff5252"/><rect x="794.0" y="690.0" width="5" height="6.2" fill="#ffcdd2"/><rect x="800.0" y="690.0" width="5" height="5.5" fill="#ffcdd2"/><rect x="806.0" y="690.0" width="5" height="6.3" fill="#ff5252"/><rect x="812.0" y="690.0" width="5" height="8.6" fill="#ff5252"/><rect x="818.0" y="690.0" width="5" height="12.6" fill="#ff5252"/><rect x="824.0" y="690.0" width="5" height="13.5" fill="#ff5252"/><rect x="830.0" y="690.0" width="5" height="14.7" fill="#ff5252"/><rect x="836.0" y="690.0" width="5" height="16.3" fill="#ff5252"/><rect x="842.0" y="690.0" width="5" height="17.0" fill="#ff5252"/><rect x="848.0" y="690.0" width="5" height="15.4" fill="#ffcdd2"/><rect x="854.0" y="690.0" width="5" height="10.2" fill="#ffcdd2"/><rect x="860.0" y="690.0" width="5" height="7.0" fill="#ffcdd2"/><rect x="866.0" y="690.0" width="5" height="5.3" fill="#ffcdd2"/><rect x="872.0" y="690.0" width="5" height="2.0" fill="#ffcdd2"/><rect x="878.0" y="688.9" width="5" height="1.1" fill="#26a69a"/><rect x="884.0" y="684.9" width="5" height="5.1" fill="#26a69a"/><rect x="890.0" y="682.5" width="5" height="7.5" fill="#26a69a"/><rect x="896.0" y="678.2" width="5" height="11.8" fill="#26a69a"/><rect x="902.0" y="675.8" width="5" height="14.2" fill="#26a69a"/><rect x="908.0" y="674.2" width="5" height="15.8" fill="#26a69a"/><rect x="914.0" y="675.6" width="5" height="14.4" fill="#b2dfdb"/><rect x="920.0" y="680.2" width="5" height="9.8" fill="#b2dfdb"/><rect x="926.0" y="684.5" width="5" height="5.5" fill="#b2dfdb"/><rect x="932.0" y="687.3" width="5" height="2.7" fill="#b2dfdb"/><rect x="938.0" y="685.9" width="5" height="4.1" fill="#26a69a"/><rect x="944.0" y="684.4" width="5" height="5.6" fill="#26a69a"/><rect x="950.0" y="684.4" width="5" height="5.6" fill="#26a69a"/><rect x="956.0" y="683.1" width="5" height="6.9" fill="#26a69a"/><rect x="962.0" y="683.6" width="5" height="6.4" fill="#b2dfdb"/><rect x="968.0" y="685.6" width="5" height="4.4" fill="#b2dfdb"/><rect x="974.0" y="689.0" width="5" height="1.0" fill="#b2dfdb"/><rect x="980.0" y="690.0" width="5" height="1.5" fill="#ff5252"/><rect x="986.0" y="690.0" width="5" height="1.1" fill="#ffcdd2"/><rect x="992.0" y="689.5" width="5" height="0.5" fill="#26a69a"/><rect x="998.0" y="689.0" width="5" height="1.0" fill="#26a69a"/><rect x="1004.0" y="690.0" width="5" height="0.1" fill="#ff5252"/><rect x="1010.0" y="688.7" width="5" height="1.3" fill="#26a69a"/><rect x="1016.0" y="688.5" width="5" height="1.5" fill="#26a69a"/><rect x="1022.0" y="687.7" width="5" height="2.3" fill="#26a69a"/><rect x="1028.0" y="688.4" width="5" height="1.6" fill="#b2dfdb"/><rect x="1034.0" y="687.8" width="5" height="2.2" fill="#26a69a"/><rect x="1040.0" y="687.5" width="5" height="2.5" fill="#26a69a"/><rect x="1046.0" y="686.7" width="5" height="3.3" fill="#26a69a"/><rect x="1052.0" y="685.0" width="5" height="5.0" fill="#26a69a"/><rect x="1058.0" y="684.5" width="5" height="5.5" fill="#26a69a"/><rect x="1064.0" y="685.5" width="5" height="4.5" fill="#b2dfdb"/><rect x="1070.0" y="688.2" width="5" height="1.8" fill="#b2dfdb"/><rect x="1076.0" y="690.0" width="5" height="2.9" fill="#ff5252"/><rect x="1082.0" y="690.0" width="5" height="4.5" fill="#ff5252"/><rect x="1088.0" y="690.0" width="5" height="4.2" fill="#ffcdd2"/><rect x="1094.0" y="690.0" width="5" height="4.1" fill="#ffcdd2"/><rect x="1100.0" y="690.0" width="5" height="6.5" fill="#ff5252"/><rect x="1106.0" y="690.0" width="5" height="8.0" fill="#ff5252"/><rect x="1112.0" y="690.0" width="5" height="7.2" fill="#ffcdd2"/><rect x="1118.0" y="690.0" width="5" height="5.7" fill="#ffcdd2"/><rect x="1124.0" y="690.0" width="5" height="4.2" fill="#ffcdd2"/><rect x="1130.0" y="690.0" width="5" height="2.7" fill="#ffcdd2"/><rect x="1136.0" y="690.0" width="5" height="3.0" fill="#ff5252"/><rect x="1142.0" y="690.0" width="5" height="1.9" fill="#ffcdd2"/><rect x="1148.0" y="689.6" width="5" height="0.4" fill="#26a69a"/><rect x="1154.0" y="690.0" width="5" height="1.4" fill="#ff5252"/><rect x="1160.0" y="690.0" width="5" height="7.2" fill="#ff5252"/><rect x="1166.0" y="690.0" width="5" height="7.5" fill="#ff5252"/><rect x="1172.0" y="690.0" width="5" height="10.0" fill="#ff5252"/><rect x="1178.0" y="690.0" width="5" height="12.5" fill="#ff5252"/><rect x="1184.0" y="690.0" width="5" height="14.5" fill="#ff5252"/><rect x="1190.0" y="690.0" width="5" height="16.8" fill="#ff5252"/><rect x="1196.0" y="690.0" width="5" height="24.7" fill="#ff5252"/><rect x="1202.0" y="690.0" width="5" height="27.1" fill="#ff5252"/><rect x="1208.0" y="690.0" width="5" height="24.2" fill="#ffcdd2"/><rect x="1214.0" y="690.0" width="5" height="19.5" fill="#ffcdd2"/><rect x="1220.0" y="690.0" width="5" height="12.7" fill="#ffcdd2"/><rect x="1226.0" y="690.0" width="5" height="9.4" fill="#ffcdd2"/><rect x="1232.0" y="690.0" width="5" height="6.3" fill="#ffcdd2"/><rect x="1238.0" y="690.0" width="5" height="3.0" fill="#ffcdd2"/><rect x="1244.0" y="688.5" width="5" height="1.5" fill="#26a69a"/><rect x="1250.0" y="684.3" width="5" height="5.7" fill="#26a69a"/><rect x="1256.0" y="680.5" width="5" height="9.5" fill="#26a69a"/><rect x="1262.0" y="682.6" width="5" height="7.4" fill="#b2dfdb"/><rect x="1268.0" y="684.7" width="5" height="5.3" fill="#b2dfdb"/><rect x="1274.0" y="686.0" width="5" height="4.0" fill="#b2dfdb"/><rect x="1280.0" y="688.1" width="5" height="1.9" fill="#b2dfdb"/><rect x="1286.0" y="690.0" width="5" height="2.4" fill="#ff5252"/><rect x="1292.0" y="690.0" width="5" height="2.5" fill="#ff5252"/><rect x="1298.0" y="690.0" width="5" height="3.2" fill="#ff5252"/><rect x="1304.0" y="690.0" width="5" height="1.7" fill="#ffcdd2"/><rect x="1310.0" y="689.4" width="5" height="0.6" fill="#26a69a"/><rect x="1316.0" y="690.0" width="5" height="0.8" fill="#ff5252"/><rect x="1322.0" y="690.0" width="5" height="2.6" fill="#ff5252"/><rect x="1328.0" y="690.0" width="5" height="2.9" fill="#ff5252"/><rect x="1334.0" y="690.0" width="5" height="4.4" fill="#ff5252"/><rect x="1340.0" y="690.0" width="5" height="5.7" fill="#ff5252"/><rect x="1346.0" y="690.0" width="5" height="3.8" fill="#ffcdd2"/><rect x="1352.0" y="689.7" width="5" height="0.3" fill="#26a69a"/><rect x="1358.0" y="687.2" width="5" height="2.8" fill="#26a69a"/><rect x="1364.0" y="686.6" width="5" height="3.4" fill="#26a69a"/><rect x="1370.0" y="684.9" width="5" height="5.1" fill="#26a69a"/><rect x="1376.0" y="684.0" width="5" height="6.0" fill="#26a69a"/><rect x="1382.0" y="685.1" width="5" height="4.9" fill="#b2dfdb"/><rect x="1388.0" y="685.2" width="5" height="4.8" fill="#b2dfdb"/><rect x="1394.0" y="682.1" width="5" height="7.9" fill="#26a69a"/><rect x="1400.0" y="678.6" width="5" height="11.4" fill="#26a69a"/><rect x="1406.0" y="676.0" width="5" height="14.0" fill="#26a69a"/><rect x="1412.0" y="675.0" width="5" height="15.0" fill="#26a69a"/><rect x="1418.0" y="673.6" width="5" height="16.4" fill="#26a69a"/><rect x="1424.0" y="674.1" width="5" height="15.9" fill="#b2dfdb"/><rect x="1430.0" y="674.1" width="5" height="15.9" fill="#b2dfdb"/><rect x="1436.0" y="673.4" width="5" height="16.6" fill="#26a69a"/><rect x="1442.0" y="670.3" width="5" height="19.7" fill="#26a69a"/><rect x="1448.0" y="666.8" width="5" height="23.2" fill="#26a69a"/><rect x="1454.0" y="661.8" width="5" height="28.2" fill="#26a69a"/></g>
<polyline points="-1.5,716.9 4.5,713.6 10.5,710.4 16.5,704.0 22.5,698.1 28.5,692.3 34.5,685.9 40.5,680.5 46.5,679.2 52.5,677.7 58.5,679.5 64.5,679.4 70.5,679.0 76.5,679.1 82.5,679.6 88.5,679.8 94.5,679.3 100.5,679.2 106.5,680.8 112.5,686.0 118.5,689.5 124.5,692.9 130.5,694.3 136.5,692.9 142.5,691.3 148.5,688.9 154.5,687.2 160.5,680.2 166.5,674.5 172.5,665.3 178.5,659.9 184.5,655.4 190.5,648.7 196.5,649.3 202.5,643.4 208.5,636.4 214.5,629.9 220.5,623.3 226.5,619.2 232.5,616.3 238.5,613.0 244.5,610.0 250.5,608.6 256.5,609.9 262.5,617.9 268.5,622.4 274.5,622.8 280.5,624.6 286.5,630.2 292.5,635.4 298.5,640.2 304.5,645.6 310.5,647.3 316.5,651.5 322.5,652.9 328.5,654.8 334.5,660.2 340.5,669.4 346.5,675.3 352.5,681.3 358.5,686.1 364.5,686.1 370.5,689.1 376.5,690.4 382.5,689.1 388.5,685.0 394.5,683.1 400.5,682.5 406.5,683.8 412.5,679.8 418.5,673.1 424.5,666.2 430.5,662.1 436.5,657.1 442.5,653.3 448.5,648.8 454.5,645.8 460.5,643.7 466.5,641.1 472.5,635.2 478.5,632.5 484.5,632.9 490.5,637.0 496.5,640.7 502.5,646.7 508.5,652.9 514.5,656.4 520.5,658.2 526.5,658.2 532.5,659.0 538.5,659.8 544.5,658.9 550.5,658.9 556.5,656.3 562.5,648.3 568.5,644.6 574.5,639.3 580.5,629.2 586.5,622.9 592.5,619.6 598.5,619.4 604.5,618.2 610.5,619.1 616.5,622.1 622.5,622.0 628.5,622.9 634.5,625.5 640.5,626.3 646.5,628.2 652.5,632.9 658.5,637.5 664.5,636.5 670.5,638.7 676.5,639.3 682.5,639.8 688.5,641.0 694.5,640.5 700.5,638.7 706.5,635.1 712.5,633.4 718.5,635.1 724.5,639.4 730.5,642.1 736.5,647.6 742.5,656.2 748.5,658.4 754.5,658.7 760.5,662.9 766.5,666.2 772.5,667.0 778.5,665.4 784.5,666.0 790.5,668.1 796.5,669.5 802.5,670.1 808.5,672.5 814.5,676.9 820.5,684.1 826.5,688.4 832.5,693.3 838.5,698.9 844.5,703.8 850.5,706.1 856.5,703.4 862.5,702.0 868.5,701.6 874.5,698.9 880.5,695.5 886.5,690.2 892.5,686.0 898.5,678.7 904.5,672.8 910.5,667.2 916.5,665.1 922.5,667.1 928.5,670.0 934.5,672.2 940.5,669.8 946.5,666.9 952.5,665.5 958.5,662.4 964.5,661.4 970.5,662.3 976.5,665.4 982.5,668.2 988.5,668.2 994.5,666.4 1000.5,665.7 1006.5,666.9 1012.5,665.1 1018.5,664.6 1024.5,663.2 1030.5,663.4 1036.5,662.3 1042.5,661.4 1048.5,659.7 1054.5,656.7 1060.5,654.9 1066.5,654.8 1072.5,657.0 1078.5,662.4 1084.5,665.2 1090.5,665.9 1096.5,666.9 1102.5,670.9 1108.5,674.3 1114.5,675.4 1120.5,675.3 1126.5,674.9 1132.5,674.1 1138.5,675.0 1144.5,674.5 1150.5,672.1 1156.5,674.1 1162.5,681.9 1168.5,684.0 1174.5,689.0 1180.5,694.7 1186.5,700.2 1192.5,706.7 1198.5,720.8 1204.5,730.0 1210.5,733.1 1216.5,733.3 1222.5,729.7 1228.5,728.7 1234.5,727.2 1240.5,724.7 1246.5,719.8 1252.5,714.2 1258.5,707.9 1264.5,708.2 1270.5,709.0 1276.5,709.3 1282.5,711.0 1288.5,715.9 1294.5,716.6 1300.5,718.0 1306.5,717.0 1312.5,714.5 1318.5,716.1 1324.5,718.6 1330.5,719.6 1336.5,722.2 1342.5,725.0 1348.5,724.0 1354.5,719.8 1360.5,716.6 1366.5,715.2 1372.5,712.2 1378.5,709.8 1384.5,709.7 1390.5,708.6 1396.5,703.5 1402.5,697.1 1408.5,691.0 1414.5,686.3 1420.5,680.8 1426.5,677.3 1432.5,673.4 1438.5,668.6 1444.5,660.5 1450.5,651.2 1456.5,639.1" fill="none" stroke="#2196f3" stroke-width="1.15" stroke-linejoin="round"/>
<polyline points="-1.5,717.7 4.5,716.9 10.5,715.6 16.5,713.3 22.5,710.2 28.5,706.6 34.5,702.5 40.5,698.1 46.5,694.3 52.5,691.0 58.5,688.7 64.5,686.8 70.5,685.3 76.5,684.0 82.5,683.1 88.5,682.5 94.5,681.8 100.5,681.3 106.5,681.2 112.5,682.2 118.5,683.6 124.5,685.5 130.5,687.3 136.5,688.4 142.5,689.0 148.5,689.0 154.5,688.6 160.5,686.9 166.5,684.4 172.5,680.6 178.5,676.5 184.5,672.3 190.5,667.5 196.5,663.9 202.5,659.8 208.5,655.1 214.5,650.1 220.5,644.7 226.5,639.6 232.5,635.0 238.5,630.6 244.5,626.4 250.5,622.9 256.5,620.3 262.5,619.8 268.5,620.3 274.5,620.8 280.5,621.6 286.5,623.3 292.5,625.7 298.5,628.6 304.5,632.0 310.5,635.1 316.5,638.4 322.5,641.3 328.5,644.0 334.5,647.2 340.5,651.7 346.5,656.4 352.5,661.4 358.5,666.3 364.5,670.3 370.5,674.0 376.5,677.3 382.5,679.7 388.5,680.7 394.5,681.2 400.5,681.5 406.5,681.9 412.5,681.5 418.5,679.8 424.5,677.1 430.5,674.1 436.5,670.7 442.5,667.2 448.5,663.5 454.5,660.0 460.5,656.7 466.5,653.6 472.5,649.9 478.5,646.4 484.5,643.7 490.5,642.4 496.5,642.0 502.5,643.0 508.5,645.0 514.5,647.3 520.5,649.4 526.5,651.2 532.5,652.8 538.5,654.2 544.5,655.1 550.5,655.9 556.5,656.0 562.5,654.4 568.5,652.5 574.5,649.8 580.5,645.7 586.5,641.2 592.5,636.8 598.5,633.3 604.5,630.3 610.5,628.1 616.5,626.9 622.5,625.9 628.5,625.3 634.5,625.3 640.5,625.5 646.5,626.1 652.5,627.4 658.5,629.4 664.5,630.8 670.5,632.4 676.5,633.8 682.5,635.0 688.5,636.2 694.5,637.1 700.5,637.4 706.5,636.9 712.5,636.2 718.5,636.0 724.5,636.7 730.5,637.8 736.5,639.7 742.5,643.0 748.5,646.1 754.5,648.6 760.5,651.5 766.5,654.4 772.5,656.9 778.5,658.6 784.5,660.1 790.5,661.7 796.5,663.3 802.5,664.6 808.5,666.2 814.5,668.4 820.5,671.5 826.5,674.9 832.5,678.6 838.5,682.6 844.5,686.9 850.5,690.7 856.5,693.3 862.5,695.0 868.5,696.3 874.5,696.9 880.5,696.6 886.5,695.3 892.5,693.4 898.5,690.5 904.5,687.0 910.5,683.0 916.5,679.4 922.5,677.0 928.5,675.6 934.5,674.9 940.5,673.9 946.5,672.5 952.5,671.1 958.5,669.4 964.5,667.8 970.5,666.7 976.5,666.4 982.5,666.8 988.5,667.1 994.5,666.9 1000.5,666.7 1006.5,666.7 1012.5,666.4 1018.5,666.0 1024.5,665.5 1030.5,665.0 1036.5,664.5 1042.5,663.9 1048.5,663.0 1054.5,661.8 1060.5,660.4 1066.5,659.3 1072.5,658.8 1078.5,659.5 1084.5,660.7 1090.5,661.7 1096.5,662.7 1102.5,664.4 1108.5,666.4 1114.5,668.2 1120.5,669.6 1126.5,670.7 1132.5,671.3 1138.5,672.1 1144.5,672.6 1150.5,672.5 1156.5,672.8 1162.5,674.6 1168.5,676.5 1174.5,679.0 1180.5,682.1 1186.5,685.7 1192.5,689.9 1198.5,696.1 1204.5,702.9 1210.5,708.9 1216.5,713.8 1222.5,717.0 1228.5,719.3 1234.5,720.9 1240.5,721.6 1246.5,721.3 1252.5,719.9 1258.5,717.5 1264.5,715.6 1270.5,714.3 1276.5,713.3 1282.5,712.8 1288.5,713.4 1294.5,714.1 1300.5,714.9 1306.5,715.3 1312.5,715.1 1318.5,715.3 1324.5,716.0 1330.5,716.7 1336.5,717.8 1342.5,719.2 1348.5,720.2 1354.5,720.1 1360.5,719.4 1366.5,718.5 1372.5,717.3 1378.5,715.8 1384.5,714.6 1390.5,713.4 1396.5,711.4 1402.5,708.5 1408.5,705.0 1414.5,701.3 1420.5,697.2 1426.5,693.2 1432.5,689.2 1438.5,685.1 1444.5,680.2 1450.5,674.4 1456.5,667.3" fill="none" stroke="#ff6d00" stroke-width="1.15" stroke-linejoin="round"/>
</g>
<g fill="#e1e3e6" shape-rendering="crispEdges"><rect x="1520" y="0" width="1" height="772"/><rect x="0" y="410" width="1585" height="1"/><rect x="0" y="592" width="1585" height="1"/><rect x="0" y="746" width="1585" height="1"/></g>
<text x="1530.2" y="7.0" font-size="12.3" fill="#131722" textLength="35.6" lengthAdjust="spacingAndGlyphs">760.00</text>
<text x="1530.2" y="49.0" font-size="12.3" fill="#131722" textLength="35.6" lengthAdjust="spacingAndGlyphs">720.00</text>
<text x="1530.2" y="92.0" font-size="12.3" fill="#131722" textLength="35.6" lengthAdjust="spacingAndGlyphs">680.00</text>
<text x="1530.2" y="134.0" font-size="12.3" fill="#131722" textLength="35.6" lengthAdjust="spacingAndGlyphs">640.00</text>
<text x="1530.2" y="177.0" font-size="12.3" fill="#131722" textLength="35.6" lengthAdjust="spacingAndGlyphs">600.00</text>
<text x="1530.2" y="219.0" font-size="12.3" fill="#131722" textLength="35.6" lengthAdjust="spacingAndGlyphs">560.00</text>
<text x="1530.2" y="262.0" font-size="12.3" fill="#131722" textLength="35.6" lengthAdjust="spacingAndGlyphs">520.00</text>
<text x="1530.2" y="304.0" font-size="12.3" fill="#131722" textLength="35.6" lengthAdjust="spacingAndGlyphs">480.00</text>
<text x="1530.2" y="347.0" font-size="12.3" fill="#131722" textLength="35.6" lengthAdjust="spacingAndGlyphs">440.00</text>
<text x="1530.2" y="390.0" font-size="12.3" fill="#131722" textLength="35.6" lengthAdjust="spacingAndGlyphs">400.00</text>
<path d="M1520,30 H1570 a2,2 0 0 1 2,2 V45 a2,2 0 0 1 -2,2 H1520 Z" fill="#26a69a"/>
<text x="1530" y="43" font-size="12.3" fill="#ffffff" textLength="35.6" lengthAdjust="spacingAndGlyphs" font-weight="bold">726.65</text>
<rect x="1539.5" y="-4" width="31" height="23.5" rx="4" fill="#ffffff" stroke="#d6d8e0" stroke-width="1"/>
<text x="1544.5" y="13.6" font-size="12.5" fill="#131722" textLength="15" lengthAdjust="spacingAndGlyphs">ILS</text>
<path d="M1561.5,7.5 l2.3,2.3 l2.3,-2.3" fill="none" stroke="#131722" stroke-width="1.2"/>
<text x="1530.6" y="427.0" font-size="12.3" fill="#131722" textLength="47.4" lengthAdjust="spacingAndGlyphs">−2800.00</text>
<text x="1530.6" y="474.0" font-size="12.3" fill="#131722" textLength="47.4" lengthAdjust="spacingAndGlyphs">−2900.00</text>
<text x="1530.6" y="522.0" font-size="12.3" fill="#131722" textLength="47.4" lengthAdjust="spacingAndGlyphs">−3000.00</text>
<text x="1530.6" y="569.0" font-size="12.3" fill="#131722" textLength="47.4" lengthAdjust="spacingAndGlyphs">−3100.00</text>
<text x="1530.2" y="600.0" font-size="12.3" fill="#131722" textLength="29.5" lengthAdjust="spacingAndGlyphs">30.00</text>
<text x="1530.2" y="631.0" font-size="12.3" fill="#131722" textLength="29.5" lengthAdjust="spacingAndGlyphs">20.00</text>
<text x="1530.2" y="662.0" font-size="12.3" fill="#131722" textLength="29.5" lengthAdjust="spacingAndGlyphs">10.00</text>
<text x="1530.2" y="693.0" font-size="12.3" fill="#131722" textLength="23.5" lengthAdjust="spacingAndGlyphs">0.00</text>
<text x="1530.2" y="725.0" font-size="12.3" fill="#131722" textLength="35.5" lengthAdjust="spacingAndGlyphs">−10.00</text>
<rect x="1521" y="585" width="64" height="7" fill="#ffffff"/>
<rect x="1521" y="592" width="64" height="1" fill="#e0e3eb"/>
<text x="124.5" y="764" font-size="12" fill="#131722" text-anchor="middle" textLength="19.5" lengthAdjust="spacingAndGlyphs">Nov</text>
<text x="256.5" y="764" font-size="12" fill="#131722" text-anchor="middle" textLength="19.5" lengthAdjust="spacingAndGlyphs">Dec</text>
<text x="394.5" y="764" font-size="12" fill="#131722" text-anchor="middle" textLength="26" lengthAdjust="spacingAndGlyphs" font-weight="bold">2021</text>
<text x="520.5" y="764" font-size="12" fill="#131722" text-anchor="middle" textLength="19" lengthAdjust="spacingAndGlyphs">Feb</text>
<text x="640.5" y="764" font-size="12" fill="#131722" text-anchor="middle" textLength="19.7" lengthAdjust="spacingAndGlyphs">Mar</text>
<text x="766.5" y="764" font-size="12" fill="#131722" text-anchor="middle" textLength="19" lengthAdjust="spacingAndGlyphs">Apr</text>
<text x="880.5" y="764" font-size="12" fill="#131722" text-anchor="middle" textLength="21.6" lengthAdjust="spacingAndGlyphs">May</text>
<text x="1000.5" y="764" font-size="12" fill="#131722" text-anchor="middle" textLength="18.2" lengthAdjust="spacingAndGlyphs">Jun</text>
<text x="1132.5" y="764" font-size="12" fill="#131722" text-anchor="middle" textLength="15.6" lengthAdjust="spacingAndGlyphs">Jul</text>
<text x="1252.5" y="764" font-size="12" fill="#131722" text-anchor="middle" textLength="19" lengthAdjust="spacingAndGlyphs">Aug</text>
<text x="1390.5" y="764" font-size="12" fill="#131722" text-anchor="middle" textLength="19" lengthAdjust="spacingAndGlyphs">Sep</text>
<text x="1474.5" y="764" font-size="12" fill="#131722" text-anchor="middle" textLength="6.3" lengthAdjust="spacingAndGlyphs">4</text>
<text x="-12" y="764" font-size="12" fill="#131722" textLength="19.5" lengthAdjust="spacingAndGlyphs">Oct</text>
<circle cx="1555.5" cy="760.2" r="9.5" fill="#f0f3fa"/>
<text x="1555.5" y="764.5" font-size="11" fill="#131722" text-anchor="middle">A</text>
<text x="4.2" y="14.8" font-size="14.6" fill="#131722" textLength="109.4" lengthAdjust="spacingAndGlyphs">TA OIL AND GAS</text>
<text x="119.6" y="14.8" font-size="14.6" fill="#787b86" text-anchor="middle">·</text>
<text x="126.8" y="14.8" font-size="14.6" fill="#131722" textLength="16.7" lengthAdjust="spacingAndGlyphs">1D</text>
<text x="150" y="14.8" font-size="14.6" fill="#787b86" text-anchor="middle">·</text>
<text x="156.6" y="14.8" font-size="14.6" fill="#131722" textLength="32.2" lengthAdjust="spacingAndGlyphs">TASE</text>
<circle cx="213.9" cy="9" r="8.7" fill="#f0f3fa"/>
<rect x="209.5" y="7.8" width="9" height="2.6" rx="1.3" fill="#787b86"/>
<text x="239.1" y="15.1" font-size="13.2" fill="#787b86" textLength="8.1" lengthAdjust="spacingAndGlyphs">O</text>
<text x="250.2" y="15.1" font-size="13.2" fill="#26a69a" textLength="36.3" lengthAdjust="spacingAndGlyphs">717.33</text>
<text x="294.2" y="15.1" font-size="13.2" fill="#787b86" textLength="6.9" lengthAdjust="spacingAndGlyphs">H</text>
<text x="303.1" y="15.1" font-size="13.2" fill="#26a69a" textLength="37.9" lengthAdjust="spacingAndGlyphs">729.85</text>
<text x="348.7" y="15.1" font-size="13.2" fill="#787b86" textLength="4.9" lengthAdjust="spacingAndGlyphs">L</text>
<text x="355.6" y="15.1" font-size="13.2" fill="#26a69a" textLength="37.5" lengthAdjust="spacingAndGlyphs">717.33</text>
<text x="400.6" y="15.1" font-size="13.2" fill="#787b86" textLength="7.1" lengthAdjust="spacingAndGlyphs">C</text>
<text x="409.3" y="15.1" font-size="13.2" fill="#26a69a" textLength="37.7" lengthAdjust="spacingAndGlyphs">726.65</text>
<text x="454.1" y="15.1" font-size="13.2" fill="#26a69a" textLength="38" lengthAdjust="spacingAndGlyphs">+21.48</text>
<text x="497.5" y="15.1" font-size="13.2" fill="#26a69a" textLength="47.9" lengthAdjust="spacingAndGlyphs">(+3.05%)</text>
<rect x="3.5" y="25.5" width="54" height="23" rx="4" fill="#ffffff" stroke="#f23645" stroke-width="1"/>
<text x="11.7" y="41.8" font-size="12.4" fill="#f23645" textLength="37.5" lengthAdjust="spacingAndGlyphs">726.65</text>
<rect x="59" y="35" width="36" height="7" fill="#ffffff" fill-opacity="0.55"/>
<text x="65.9" y="41.4" font-size="12.4" fill="#50535e" textLength="20.8" lengthAdjust="spacingAndGlyphs">0.00</text>
<rect x="95.5" y="25.5" width="54" height="23" rx="4" fill="#ffffff" stroke="#2962ff" stroke-width="1"/>
<text x="104" y="41.8" font-size="12.4" fill="#2962ff" textLength="37.3" lengthAdjust="spacingAndGlyphs">726.65</text>
<rect x="4.5" y="55.5" width="31" height="20" rx="3" fill="#ffffff" stroke="#d1d4dc" stroke-width="1"/>
<path d="M10.5,63.5 l4,4 l4,-4" fill="none" stroke="#131722" stroke-width="1.1"/>
<text x="24.0" y="69.8" font-size="12.5" fill="#131722">8</text>
<rect x="4.5" y="417.5" width="31" height="20" rx="3" fill="#ffffff" stroke="#d1d4dc" stroke-width="1"/>
<path d="M10.5,425.5 l4,4 l4,-4" fill="none" stroke="#131722" stroke-width="1.1"/>
<text x="24.0" y="431.8" font-size="12.5" fill="#131722">2</text>
</svg></body></html>
